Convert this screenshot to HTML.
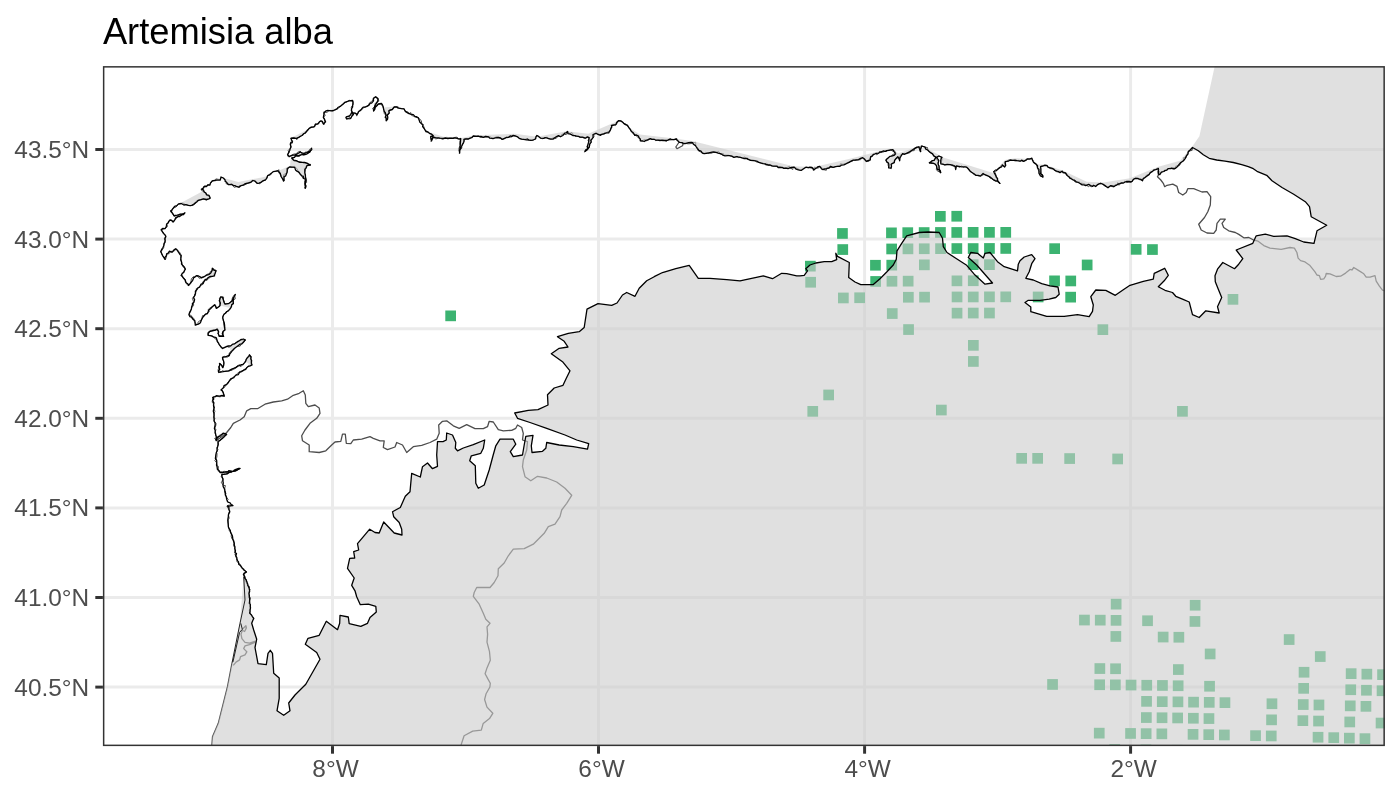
<!DOCTYPE html><html><head><meta charset="utf-8"><title>Artemisia alba</title>
<style>html,body{margin:0;padding:0;background:#fff}svg{display:block}text{font-family:"Liberation Sans",Arial,sans-serif}</style></head><body>
<svg width="1400" height="800" viewBox="0 0 1400 800">
<rect width="1400" height="800" fill="#fff"/>
<defs><clipPath id="pc"><rect x="102.9" y="66.1" width="1282.0" height="680.0"/></clipPath>
<mask id="nr" maskUnits="userSpaceOnUse" x="0" y="0" width="1400" height="800"><rect width="1400" height="800" fill="#fff"/><path d="M171.2 212.0 L172.1 209.7 L173.1 208.3 L174.6 206.3 L176.8 205.6 L178.5 203.9 L180.0 203.7 L181.3 203.5 L183.9 205.0 L185.9 204.6 L188.4 205.3 L190.2 205.7 L191.8 205.4 L193.6 204.2 L194.7 203.4 L196.7 202.0 L198.4 200.3 L200.8 199.7 L203.5 198.9 L206.6 199.5 L209.2 198.8 L210.2 198.2 L209.1 195.4 L206.9 194.9 L205.7 192.8 L204.1 192.0 L203.5 189.9 L201.3 189.2 L203.2 188.0 L204.2 186.4 L206.4 186.6 L207.9 185.0 L209.8 185.2 L210.5 182.9 L212.3 180.8 L214.5 180.4 L217.0 180.1 L220.3 180.0 L220.6 178.7 L221.0 177.0 L223.4 178.0 L225.1 179.9 L225.1 181.3 L226.8 182.6 L228.3 184.5 L230.0 184.7 L231.8 184.5 L233.6 185.6 L235.2 185.7 L236.3 186.4 L238.8 187.2 L239.7 186.2 L241.2 185.7 L243.2 185.2 L244.4 184.2 L246.3 183.4 L248.5 183.0 L250.7 182.4 L252.8 180.5 L255.1 181.2 L257.1 183.3 L259.1 183.2 L261.3 182.1 L263.3 180.6 L265.5 180.0 L266.6 178.4 L267.7 175.6 L269.7 174.6 L271.6 173.1 L273.2 171.6 L276.2 171.1 L278.2 170.9 L280.3 173.5 L280.7 175.0 L281.1 176.5 L282.6 178.9 L283.6 181.2 L284.1 179.3 L284.0 176.4 L285.6 176.1 L286.8 173.0 L287.2 171.4 L287.2 168.5 L289.8 167.0 L292.4 167.2 L294.7 167.4 L295.5 169.9 L297.3 171.4 L298.9 172.1 L300.3 174.2 L301.7 175.8 L303.2 176.2 L303.7 178.5 L305.5 179.5 L304.9 181.6 L304.9 184.4 L305.4 186.9 L305.2 188.4 L306.0 186.6 L305.4 184.6 L305.3 182.8 L305.9 180.0 L305.5 177.9 L305.4 175.0 L304.8 172.7 L304.8 169.6 L306.2 167.8 L307.0 165.6 L307.3 165.4 L310.4 165.1 L308.7 164.1 L306.8 163.2 L304.6 162.3 L302.6 162.3 L299.8 162.4 L297.7 161.4 L296.3 160.6 L293.5 160.2 L291.7 158.0 L294.5 157.3 L295.9 155.4 L298.0 155.9 L300.9 154.8 L302.5 154.6 L305.0 154.6 L306.9 154.0 L308.7 152.7 L309.9 152.1 L310.9 149.9 L311.6 148.2 L310.7 150.6 L308.5 151.7 L306.7 152.5 L304.3 153.4 L302.1 153.2 L300.4 152.0 L297.5 153.7 L296.8 154.1 L294.6 155.1 L292.8 155.2 L290.9 155.8 L289.4 156.6 L287.6 154.8 L288.4 153.1 L289.7 150.5 L290.2 148.7 L290.9 147.0 L290.3 144.1 L291.0 142.3 L292.5 142.0 L291.6 140.3 L291.0 138.4 L293.6 138.0 L296.5 138.4 L299.1 137.1 L300.8 136.0 L302.0 135.5 L304.0 133.5 L304.9 133.2 L306.4 131.5 L307.9 130.1 L309.2 128.4 L311.1 127.4 L313.7 126.8 L314.6 126.2 L315.5 124.4 L318.1 123.6 L319.4 121.8 L321.0 120.8 L322.3 121.3 L323.4 124.0 L325.6 121.9 L324.6 119.4 L323.4 117.4 L323.8 114.9 L323.9 113.0 L326.1 110.8 L327.7 110.5 L329.3 110.6 L331.2 110.9 L333.3 110.5 L335.0 109.9 L337.4 108.6 L337.8 107.5 L340.2 106.4 L341.4 105.5 L343.3 104.0 L344.8 102.3 L346.9 101.6 L349.1 100.9 L352.6 100.5 L353.0 102.3 L352.7 105.2 L352.6 107.0 L351.6 108.8 L351.5 110.6 L352.2 111.9 L353.4 114.5 L351.8 116.3 L350.6 118.5 L349.5 118.0 L346.6 119.0 L345.9 117.5 L346.6 116.6 L349.4 116.2 L350.7 114.3 L351.5 112.9 L353.9 112.8 L355.4 113.2 L357.0 114.6 L358.0 113.2 L358.4 111.8 L360.1 110.8 L361.7 108.8 L363.2 107.1 L364.7 107.1 L367.0 106.4 L369.0 105.2 L370.2 103.1 L371.6 103.1 L373.5 100.8 L373.4 98.2 L375.6 96.7 L377.8 98.9 L377.9 100.7 L376.8 102.6 L375.6 104.8 L374.6 106.6 L374.1 108.6 L373.5 111.0 L374.8 109.3 L375.3 107.4 L377.1 105.5 L378.3 104.0 L381.4 103.4 L382.6 105.1 L383.3 107.3 L383.7 109.6 L384.2 111.5 L385.2 112.5 L386.1 115.3 L385.2 117.2 L386.2 118.3 L386.2 120.8 L387.5 119.3 L387.8 117.3 L387.3 115.0 L389.2 113.0 L388.9 110.9 L390.3 109.9 L392.3 109.5 L394.2 107.0 L396.4 106.8 L398.2 108.1 L400.1 108.3 L401.5 108.7 L404.0 108.8 L405.2 111.2 L406.0 111.9 L408.5 113.4 L410.5 114.2 L411.9 114.4 L413.3 114.6 L414.9 116.4 L416.3 116.6 L418.3 117.8 L419.1 120.1 L419.9 122.2 L421.3 123.5 L423.1 124.7 L422.6 126.7 L423.8 127.7 L424.7 129.4 L425.6 130.9 L428.2 132.1 L429.4 133.3 L431.5 134.1 L433.2 135.8 L430.7 136.5 L430.9 139.0 L431.5 140.9 L432.2 139.1 L432.9 137.0 L435.5 137.6 L438.3 137.8 L439.8 138.2 L443.2 138.4 L445.3 138.0 L447.9 138.7 L450.2 138.2 L453.2 138.4 L454.8 137.8 L456.3 138.2 L459.2 139.1 L460.7 138.5 L460.5 141.7 L460.3 143.8 L460.2 145.7 L460.0 146.9 L459.8 150.1 L459.2 150.2 L459.7 152.9 L459.7 150.5 L460.4 148.8 L461.7 146.3 L462.4 144.4 L463.5 142.8 L464.2 140.8 L464.0 139.4 L466.0 139.0 L468.6 139.0 L469.5 138.4 L471.7 137.7 L473.3 136.0 L476.2 136.4 L478.2 136.2 L480.1 136.7 L480.9 136.4 L483.3 137.4 L485.6 136.4 L488.7 136.9 L489.6 138.1 L492.1 138.3 L493.5 138.5 L495.4 137.8 L498.4 137.5 L500.6 138.0 L502.3 139.4 L504.5 138.3 L506.2 137.5 L508.5 137.3 L510.2 135.9 L511.6 136.4 L512.9 135.5 L515.4 136.0 L517.5 136.8 L519.2 138.3 L521.5 139.2 L523.4 139.3 L525.2 139.7 L527.4 139.0 L529.0 140.1 L530.9 140.3 L532.5 140.1 L534.3 139.5 L535.6 138.7 L536.1 136.6 L536.9 135.5 L538.2 136.2 L540.7 138.2 L543.8 138.4 L544.8 137.7 L546.5 137.9 L548.7 138.6 L550.7 139.2 L553.0 139.2 L554.2 138.0 L556.6 136.6 L558.5 135.6 L560.5 136.8 L562.8 135.5 L564.7 133.2 L566.0 132.8 L567.6 131.4 L567.9 133.7 L570.3 134.1 L571.5 134.6 L572.8 135.5 L575.0 135.6 L576.5 136.1 L578.4 136.4 L580.2 137.1 L582.5 137.1 L585.3 138.2 L587.4 136.8 L589.1 137.6 L588.9 140.2 L588.6 142.2 L588.3 143.1 L587.4 146.1 L587.8 148.4 L585.7 150.0 L585.2 151.3 L587.0 149.9 L588.4 148.1 L589.2 147.2 L589.6 145.3 L589.7 144.1 L591.2 142.2 L590.7 140.2 L592.0 139.0 L593.1 137.4 L593.0 134.5 L596.2 133.3 L597.7 134.2 L600.6 135.3 L600.7 134.7 L604.3 133.6 L605.2 133.1 L607.3 132.8 L608.7 132.9 L609.3 131.6 L610.6 129.7 L610.8 128.4 L611.8 126.8 L611.4 125.5 L614.3 124.9 L615.9 124.6 L616.9 122.1 L618.5 120.6 L620.5 120.9 L622.7 122.2 L624.0 123.6 L626.1 124.9 L627.3 125.4 L628.9 127.7 L630.2 129.2 L631.5 131.6 L632.6 132.3 L633.6 133.3 L634.8 135.4 L636.0 134.8 L638.5 136.0 L638.8 137.4 L640.4 139.2 L640.3 140.7 L642.5 141.0 L644.2 141.5 L645.9 140.4 L647.5 139.9 L650.3 138.7 L651.8 139.3 L654.2 139.3 L655.9 140.2 L657.8 140.1 L660.0 140.5 L662.0 140.1 L664.7 140.4 L666.4 140.5 L667.8 140.2 L670.4 138.9 L671.4 139.7 L674.0 139.6 L676.3 139.0 L676.8 140.1 L679.4 142.3 L681.9 142.6 L683.1 143.2 L685.0 143.7 L688.6 142.6 L691.2 142.3 L692.6 142.6 L693.4 144.2 L695.5 145.6 L696.3 147.0 L697.4 148.7 L698.9 150.3 L701.0 151.2 L702.4 153.2 L704.0 153.6 L706.4 153.4 L707.4 153.1 L709.9 152.6 L712.0 152.2 L713.8 152.0 L716.2 152.3 L718.1 153.1 L720.2 153.6 L722.0 154.4 L722.7 155.1 L725.0 155.8 L727.9 155.6 L729.4 155.6 L731.7 156.2 L733.9 157.3 L736.8 156.6 L738.2 156.9 L740.5 157.3 L742.5 158.0 L743.7 158.5 L746.9 158.4 L748.3 159.4 L750.4 160.3 L753.3 160.6 L755.5 160.8 L757.3 161.3 L758.8 162.4 L761.4 163.2 L762.9 163.6 L765.3 163.9 L765.8 164.5 L768.2 165.0 L770.3 165.0 L772.2 165.8 L774.5 166.1 L777.1 166.1 L778.0 167.5 L779.6 167.5 L782.1 167.3 L783.8 168.4 L785.7 168.1 L788.1 168.7 L789.5 168.0 L791.5 167.5 L794.3 167.2 L795.7 168.9 L797.5 169.7 L799.3 170.1 L801.5 170.3 L804.4 168.3 L805.9 167.2 L808.4 167.7 L809.9 167.2 L812.0 167.3 L813.2 168.9 L813.3 169.8 L815.2 168.8 L816.9 167.7 L818.2 166.6 L819.9 166.5 L821.4 168.7 L822.7 169.5 L824.7 169.0 L826.5 168.7 L829.1 168.0 L830.6 166.3 L833.1 167.3 L835.5 166.6 L837.7 166.4 L840.0 166.3 L841.6 165.1 L843.9 164.9 L845.3 164.2 L846.7 163.4 L848.6 162.6 L849.2 162.4 L851.5 160.8 L853.2 160.2 L855.5 160.0 L858.6 159.6 L860.6 158.3 L862.7 157.7 L864.2 158.8 L865.0 159.7 L866.3 161.3 L867.9 160.6 L870.3 159.8 L870.3 158.3 L870.7 156.7 L872.3 156.1 L873.3 154.6 L875.0 154.0 L876.2 153.3 L878.7 153.1 L879.7 152.0 L881.2 151.9 L883.2 151.0 L885.4 151.3 L886.6 150.7 L888.9 150.3 L891.0 149.9 L892.9 149.7 L893.9 151.3 L895.2 153.2 L895.1 154.4 L893.9 155.4 L891.6 156.2 L889.8 156.4 L888.1 158.0 L886.1 159.8 L886.7 162.0 L888.5 163.1 L888.9 164.9 L888.6 167.8 L891.0 168.2 L891.5 166.2 L891.2 164.3 L892.6 163.3 L894.3 162.6 L894.6 160.4 L895.7 159.0 L897.8 156.8 L898.8 157.9 L899.7 160.8 L900.0 157.8 L901.1 156.0 L902.6 153.6 L904.2 154.4 L906.5 153.3 L909.5 151.9 L911.1 150.9 L912.7 149.8 L915.1 148.1 L916.9 147.1 L919.1 147.0 L919.3 148.4 L920.5 151.7 L920.6 149.0 L921.5 146.0 L925.2 147.1 L925.5 148.9 L927.7 150.0 L928.9 151.3 L930.0 152.4 L932.6 153.9 L933.7 155.9 L935.9 157.1 L934.3 160.3 L932.0 160.7 L931.6 161.3 L929.3 162.7 L931.3 163.0 L933.5 163.4 L934.9 164.0 L936.4 165.6 L937.4 169.7 L938.7 169.5 L940.0 171.8 L940.6 172.7 L940.4 170.8 L939.1 169.2 L939.0 166.0 L938.3 164.8 L938.2 163.2 L938.8 160.3 L937.9 159.1 L936.4 157.3 L938.8 156.0 L942.0 157.3 L941.1 158.6 L940.7 160.6 L940.8 163.8 L943.4 164.4 L944.8 164.9 L947.2 164.3 L950.2 164.6 L952.7 165.1 L953.2 165.8 L954.7 166.0 L956.1 167.4 L955.7 169.5 L955.8 167.7 L956.5 165.9 L958.8 166.3 L961.8 166.8 L963.2 166.9 L964.3 166.8 L966.7 167.2 L968.0 168.5 L969.6 170.5 L970.7 171.8 L972.3 172.8 L974.4 174.1 L976.0 175.4 L978.1 175.4 L980.4 176.1 L983.1 173.5 L984.8 174.7 L986.5 175.3 L988.4 176.2 L989.8 176.8 L991.0 177.7 L993.1 179.5 L994.3 180.1 L995.9 181.2 L997.4 180.9 L999.7 183.4 L998.9 182.2 L997.3 180.3 L997.6 178.7 L996.5 177.1 L995.7 175.4 L994.3 173.0 L993.7 171.5 L996.3 170.7 L997.3 169.6 L999.7 167.6 L1001.5 166.9 L1002.4 164.9 L1004.7 167.0 L1005.7 165.5 L1005.2 162.4 L1005.4 161.7 L1008.4 161.2 L1010.0 160.0 L1012.7 160.4 L1015.0 160.1 L1016.9 160.6 L1020.0 161.2 L1021.6 160.2 L1023.7 161.3 L1026.5 159.9 L1027.3 158.8 L1030.2 158.8 L1031.9 158.2 L1032.4 159.9 L1033.4 162.1 L1033.6 162.4 L1036.0 164.1 L1037.5 165.8 L1037.5 167.9 L1038.9 169.4 L1038.9 171.9 L1039.0 173.3 L1040.3 175.8 L1042.9 176.9 L1042.8 175.6 L1040.6 173.6 L1040.9 171.8 L1040.9 169.0 L1040.6 166.7 L1043.5 165.8 L1044.4 165.5 L1046.9 165.5 L1048.2 167.3 L1050.4 167.8 L1052.2 168.4 L1053.6 169.0 L1054.5 170.2 L1056.6 171.1 L1057.9 171.4 L1060.0 172.6 L1062.1 171.2 L1062.9 172.5 L1065.4 173.0 L1067.2 175.5 L1068.9 176.7 L1069.8 178.1 L1071.1 178.7 L1073.1 179.9 L1074.5 180.2 L1076.2 181.8 L1078.3 182.5 L1080.1 183.5 L1082.1 184.9 L1084.0 184.8 L1085.7 185.6 L1088.7 184.4 L1090.6 185.5 L1092.6 186.4 L1093.6 185.3 L1095.7 186.5 L1097.2 184.9 L1099.0 183.9 L1101.1 183.5 L1102.5 184.0 L1104.1 185.1 L1106.1 186.4 L1108.0 187.8 L1110.8 185.6 L1114.1 186.5 L1115.2 185.7 L1116.4 185.2 L1118.5 183.9 L1119.6 183.7 L1121.7 182.9 L1123.1 183.2 L1125.1 182.0 L1126.4 181.5 L1129.1 181.5 L1131.0 182.0 L1132.4 180.9 L1133.4 179.4 L1135.0 178.5 L1138.1 178.7 L1138.8 178.9 L1140.8 179.3 L1142.5 180.8 L1143.4 178.3 L1145.0 177.6 L1147.1 175.9 L1149.0 174.6 L1150.3 172.6 L1152.2 171.6 L1153.9 170.0 L1155.8 169.6 L1158.4 168.5 L1158.2 170.0 L1158.7 172.0 L1158.3 174.2 L1159.8 174.7 L1161.4 172.2 L1163.8 171.5 L1164.9 170.5 L1166.9 170.1 L1168.1 168.7 L1170.8 168.7 L1171.4 168.2 L1173.0 168.5 L1175.2 168.4 L1177.1 166.9 L1177.9 165.9 L1179.5 164.0 L1180.4 162.8 L1182.3 161.5 L1183.3 160.7 L1185.0 158.9 L1185.9 157.1 L1186.3 156.0 L1188.1 153.9 L1188.0 152.2 L1188.8 151.0 L1190.4 149.7 L1192.5 147.5 L1198.3 150.8 L1203.3 154.7 L1209.2 158.3 L1216.7 160.0 L1225.0 161.2 L1233.3 162.5 L1241.7 164.7 L1248.3 166.7 L1253.3 168.7 L1257.0 171.3 L1266.7 175.3 L1272.0 180.8 L1282.0 187.5 L1293.7 194.2 L1305.3 201.7 L1309.5 206.7 L1311.2 216.7 L1326.7 225.3 L1317.0 230.8 L1314.0 243.3 L1303.7 242.0 L1295.3 238.7 L1287.0 235.8 L1273.7 236.3 L1265.3 234.2 L1256.2 235.8 L1252.8 243.3 L1236.2 250.0 L1242.8 258.7 L1238.7 264.2 L1234.5 268.7 L1222.8 262.5 L1217.5 269.2 L1215.0 275.8 L1215.3 281.7 L1218.3 289.2 L1221.7 297.5 L1217.5 306.7 L1219.2 313.0 L1205.8 310.8 L1199.2 317.5 L1192.5 314.7 L1189.2 302.0 L1182.5 299.2 L1175.8 296.3 L1172.5 292.5 L1165.0 290.3 L1158.3 286.7 L1164.2 280.8 L1168.3 275.3 L1164.7 268.3 L1154.2 273.3 L1153.3 279.2 L1143.3 281.3 L1130.0 285.3 L1123.3 289.7 L1115.3 295.3 L1105.8 290.3 L1095.8 290.0 L1090.8 296.7 L1093.3 305.0 L1092.5 311.3 L1089.2 316.7 L1077.5 314.7 L1064.2 316.3 L1046.7 316.3 L1030.8 311.7 L1030.8 307.0 L1025.0 302.5 L1028.3 300.3 L1040.0 300.3 L1049.2 299.2 L1055.8 297.5 L1059.2 294.2 L1058.0 287.0 L1050.0 285.8 L1041.7 283.7 L1033.3 280.0 L1025.8 278.3 L1029.2 271.7 L1031.7 263.7 L1035.0 258.7 L1031.7 254.7 L1024.2 257.0 L1020.0 260.8 L1018.3 264.2 L1017.5 270.8 L1004.2 266.7 L997.5 261.7 L990.0 252.5 L985.0 253.3 L983.3 258.0 L977.5 253.3 L970.8 252.5 L968.3 257.5 L976.7 265.0 L992.5 283.0 L985.0 284.2 L974.2 274.2 L966.7 265.3 L955.8 258.3 L947.0 252.5 L943.3 246.7 L942.5 238.3 L939.2 232.5 L928.3 232.0 L919.2 232.5 L906.7 235.8 L901.7 243.3 L897.0 250.8 L896.3 259.2 L893.3 265.0 L886.7 272.0 L880.0 278.7 L873.0 284.7 L860.8 284.7 L855.0 282.0 L848.7 277.5 L849.3 262.5 L837.5 256.3 L835.8 253.3 L836.7 259.7 L831.7 261.7 L824.2 261.7 L815.8 263.0 L810.0 265.0 L805.8 268.7 L807.5 270.8 L804.2 275.3 L800.0 275.8 L796.7 275.8 L786.7 273.7 L781.7 273.3 L772.5 278.7 L763.3 275.8 L751.7 278.3 L740.0 280.8 L726.7 279.7 L710.0 278.3 L698.3 278.3 L689.2 265.3 L675.8 268.7 L662.5 272.5 L654.2 276.7 L646.7 280.8 L639.2 288.3 L635.0 296.3 L626.7 292.5 L622.5 295.0 L617.0 303.0 L611.7 305.3 L598.0 303.7 L587.0 309.2 L584.2 327.5 L579.2 331.7 L568.3 333.3 L557.5 336.7 L564.2 341.3 L568.0 347.0 L559.2 348.3 L551.3 353.7 L562.5 361.7 L570.0 370.8 L566.3 378.3 L563.0 385.3 L554.2 388.0 L547.5 394.7 L548.0 405.0 L538.0 409.7 L528.3 410.3 L514.7 413.0 L517.5 418.3 L530.0 422.5 L546.7 428.3 L565.0 435.0 L576.7 440.0 L588.7 443.7 L587.5 449.2 L573.3 446.7 L559.2 445.0 L546.7 442.5 L545.8 448.3 L542.5 451.3 L532.0 452.5 L531.3 445.8 L533.0 435.3 L525.8 436.3 L524.2 445.0 L522.5 455.0 L513.3 456.7 L510.3 451.7 L515.8 444.2 L513.3 439.2 L500.0 439.2 L495.8 445.8 L493.0 455.8 L489.2 470.0 L484.2 485.0 L478.3 488.3 L475.8 483.3 L475.3 465.8 L469.7 460.8 L471.3 455.8 L480.8 453.3 L483.3 448.3 L484.7 440.0 L473.3 444.7 L463.3 448.0 L457.5 450.8 L455.3 448.3 L455.8 442.5 L452.5 435.0 L446.7 433.0 L446.3 440.0 L443.0 441.7 L437.5 441.7 L436.7 455.0 L437.5 466.3 L432.5 468.7 L427.5 463.0 L422.5 466.7 L420.3 477.0 L411.7 473.3 L410.0 491.7 L405.3 496.3 L400.3 507.5 L392.5 511.7 L393.7 516.7 L399.2 522.5 L401.7 529.2 L402.0 535.0 L394.2 533.0 L383.7 522.0 L379.2 533.0 L375.0 532.5 L369.7 529.2 L357.5 543.7 L358.7 550.0 L353.7 551.7 L354.7 558.0 L349.7 558.3 L347.5 568.3 L354.2 578.0 L351.7 585.3 L355.0 590.8 L356.7 596.7 L360.3 604.7 L368.3 604.2 L375.8 606.3 L376.3 612.0 L370.0 617.5 L367.5 623.3 L360.8 626.3 L349.2 623.7 L348.3 617.0 L340.0 615.3 L339.7 623.3 L337.5 629.7 L326.3 621.3 L319.2 635.3 L308.0 638.3 L305.3 644.2 L316.7 652.5 L320.0 659.2 L305.8 684.2 L295.0 695.0 L288.7 703.0 L290.0 710.8 L283.7 715.3 L277.0 710.8 L279.2 698.3 L279.2 678.0 L273.7 673.3 L272.5 653.3 L270.3 650.3 L268.0 653.3 L266.3 664.7 L258.0 663.7 L255.0 647.5 L256.7 639.2 L253.7 630.0 L251.7 623.3 L253.0 620.0 L253.8 618.4 L252.2 616.3 L251.5 615.0 L249.6 613.1 L250.1 611.3 L250.1 609.9 L250.5 607.9 L250.3 606.7 L250.3 604.3 L249.8 603.7 L249.6 600.6 L249.7 598.6 L249.2 597.1 L249.4 595.9 L249.0 593.6 L249.5 591.8 L249.7 591.1 L249.1 588.1 L248.4 586.4 L247.7 585.2 L247.9 584.4 L246.4 580.8 L246.4 580.0 L244.9 578.6 L244.3 576.2 L243.4 574.4 L245.5 572.6 L246.5 572.0 L244.0 569.9 L242.6 568.6 L241.9 567.5 L241.0 566.1 L238.7 564.2 L238.5 561.8 L237.7 560.8 L236.8 559.4 L236.9 557.8 L235.8 555.8 L236.5 553.6 L235.0 552.5 L235.5 550.9 L234.8 548.7 L235.0 547.0 L234.3 545.2 L234.3 543.3 L233.8 541.8 L232.9 539.6 L232.7 538.1 L232.4 535.8 L231.4 534.1 L230.6 532.7 L230.3 530.4 L228.7 528.0 L228.4 526.8 L228.2 524.3 L228.0 521.4 L227.8 520.4 L228.0 518.4 L228.3 517.0 L228.4 514.8 L229.4 512.7 L229.8 511.8 L228.9 509.5 L229.0 507.6 L227.5 506.0 L229.3 506.1 L231.2 505.6 L233.0 505.5 L231.2 504.8 L230.3 503.0 L228.0 502.2 L227.2 500.8 L226.7 499.4 L226.2 496.3 L225.3 494.9 L225.7 493.7 L225.0 491.3 L224.7 489.7 L223.9 487.8 L223.2 486.6 L223.0 485.0 L223.3 483.0 L223.0 481.7 L223.0 479.0 L222.5 478.1 L221.8 475.8 L222.0 474.3 L223.8 474.4 L226.2 474.1 L227.8 473.3 L229.5 472.3 L232.4 471.5 L233.3 471.1 L235.2 471.1 L237.1 470.0 L238.3 469.5 L240.0 468.3 L238.7 468.4 L236.6 469.0 L234.7 469.9 L233.8 471.3 L231.8 471.2 L228.8 470.7 L227.8 472.0 L226.0 471.8 L223.6 472.4 L222.9 472.6 L220.0 472.5 L219.2 470.7 L217.4 469.3 L217.1 466.8 L216.5 465.0 L216.8 462.2 L216.6 460.1 L215.4 458.5 L215.7 456.1 L215.9 454.3 L216.4 452.4 L217.0 451.0 L217.1 448.5 L217.7 446.5 L218.3 444.0 L218.0 441.4 L220.1 440.3 L221.6 439.0 L222.6 438.4 L224.5 436.1 L225.5 435.4 L226.6 434.4 L225.1 433.6 L223.1 433.2 L222.0 434.3 L220.3 436.1 L218.4 436.3 L217.1 438.2 L216.1 440.7 L216.0 439.1 L216.5 437.5 L215.8 435.4 L215.7 434.0 L215.1 432.6 L215.2 430.5 L214.4 428.4 L214.7 427.0 L215.2 424.7 L215.0 422.6 L214.2 421.3 L214.0 418.7 L213.9 416.7 L214.1 415.6 L213.9 413.5 L213.3 411.2 L213.5 410.1 L214.3 407.1 L213.7 407.0 L213.5 405.2 L213.9 402.9 L212.7 400.7 L213.8 398.9 L212.7 397.4 L215.4 396.7 L216.3 395.7 L219.5 396.1 L222.1 395.5 L224.3 396.1 L223.5 393.8 L223.3 392.6 L222.1 390.7 L221.0 389.9 L223.6 387.5 L224.0 385.6 L226.8 384.4 L228.4 382.5 L229.5 380.7 L230.7 378.9 L233.8 377.7 L234.4 376.6 L236.1 375.0 L238.2 374.7 L239.5 372.5 L241.4 371.6 L243.9 370.1 L245.7 369.3 L247.0 367.4 L248.5 366.3 L250.2 365.9 L252.1 365.0 L251.4 363.3 L251.6 360.3 L250.8 359.0 L250.9 356.8 L249.5 354.8 L248.7 356.4 L247.3 357.8 L246.2 359.3 L245.8 360.9 L244.9 362.4 L242.9 364.5 L241.5 364.7 L239.4 365.7 L237.8 366.1 L235.9 367.4 L234.2 368.2 L232.3 368.8 L230.4 369.9 L228.6 370.9 L226.3 371.1 L223.2 371.7 L220.4 372.0 L218.6 372.2 L218.4 370.7 L219.7 369.7 L219.1 366.8 L219.8 364.9 L219.5 363.5 L221.2 364.8 L222.2 366.2 L222.8 367.7 L223.6 365.5 L223.9 363.4 L223.6 361.0 L222.7 359.3 L222.5 357.3 L223.7 357.1 L225.3 356.8 L227.1 356.2 L229.4 355.3 L229.7 354.0 L231.3 352.1 L232.3 350.7 L233.5 349.5 L235.0 348.0 L236.7 346.8 L238.1 345.7 L240.2 344.1 L241.7 343.9 L243.2 342.6 L243.7 341.8 L245.2 339.8 L243.3 339.0 L240.8 339.8 L238.6 341.2 L237.4 341.7 L235.4 343.3 L234.7 343.8 L232.7 344.1 L230.8 345.9 L228.4 346.0 L226.6 346.5 L223.9 347.8 L222.7 348.5 L221.1 347.1 L219.1 344.3 L218.4 342.8 L217.2 341.3 L216.7 338.9 L216.2 337.7 L213.4 336.8 L211.9 336.2 L210.2 335.7 L208.2 335.3 L208.2 333.2 L210.0 331.3 L211.6 331.0 L213.4 330.5 L215.6 330.2 L216.9 329.2 L218.4 331.5 L218.2 333.3 L219.1 336.4 L221.6 336.1 L223.6 336.4 L222.3 333.8 L223.0 331.5 L225.0 330.0 L224.7 327.7 L224.6 325.3 L224.3 322.9 L223.8 321.5 L223.2 320.1 L222.8 317.5 L223.0 316.2 L224.1 314.0 L225.3 313.3 L226.9 311.5 L228.1 311.1 L229.5 309.6 L230.6 308.1 L231.5 306.4 L231.8 304.6 L233.4 303.6 L233.2 301.6 L233.3 300.2 L233.4 298.6 L234.3 295.9 L235.4 294.4 L234.1 296.7 L232.7 299.0 L232.2 300.8 L229.9 302.7 L228.3 303.7 L226.4 303.8 L225.1 304.2 L224.1 302.5 L223.4 300.0 L222.4 297.2 L220.6 296.8 L220.1 298.6 L219.3 300.7 L220.4 303.1 L219.8 305.8 L218.8 306.8 L216.3 308.4 L215.7 306.7 L214.6 304.7 L213.2 306.0 L212.1 307.0 L210.5 308.7 L208.6 310.2 L208.2 311.5 L207.4 313.7 L205.4 314.3 L204.1 315.9 L202.6 317.7 L201.5 319.8 L200.4 322.8 L199.0 323.8 L198.0 324.2 L195.3 325.2 L195.0 322.5 L194.9 320.8 L192.7 319.1 L191.7 317.1 L189.9 316.6 L188.9 314.8 L189.5 312.8 L190.5 311.2 L191.4 309.1 L191.6 307.0 L192.5 304.8 L192.4 303.5 L194.0 302.2 L194.6 299.6 L193.5 297.7 L195.0 295.1 L195.5 293.8 L195.4 291.2 L197.1 289.3 L198.3 287.5 L199.7 287.1 L201.1 284.1 L203.2 283.5 L203.9 281.4 L205.3 279.5 L206.5 279.4 L208.0 277.8 L209.9 276.5 L212.3 276.3 L214.5 275.9 L214.5 274.9 L215.4 272.7 L215.9 270.8 L213.8 270.1 L212.3 268.3 L212.0 270.8 L210.8 273.0 L208.7 274.7 L207.0 275.0 L204.9 276.3 L202.6 277.0 L201.8 277.9 L200.6 277.1 L198.5 276.0 L196.8 275.6 L194.4 277.4 L193.8 277.5 L192.6 280.6 L191.3 282.0 L190.0 283.6 L188.6 285.4 L187.8 283.7 L186.1 282.7 L185.2 280.0 L183.6 278.3 L182.2 276.0 L181.4 275.0 L182.4 273.1 L183.6 272.5 L184.6 270.4 L185.4 269.1 L184.3 267.0 L182.8 265.6 L181.5 264.1 L181.6 262.1 L180.7 259.9 L180.9 258.4 L181.2 255.5 L179.9 254.4 L178.8 252.7 L177.3 250.4 L177.1 249.9 L175.7 248.7 L174.0 249.8 L172.5 252.0 L170.8 252.0 L169.5 251.1 L168.3 253.0 L166.8 253.6 L166.2 255.9 L165.1 257.1 L165.0 259.4 L163.8 257.4 L162.6 255.6 L161.8 253.7 L160.7 251.6 L162.2 248.5 L162.9 247.5 L163.8 245.7 L164.3 243.3 L165.1 242.2 L165.1 239.9 L165.1 238.1 L165.9 236.7 L165.1 235.1 L163.6 233.6 L161.9 230.9 L161.4 229.5 L162.6 228.4 L165.0 228.7 L166.4 226.2 L166.6 224.0 L168.5 222.7 L168.5 221.7 L170.0 220.0 L171.8 220.5 L173.1 222.1 L174.2 220.9 L175.0 219.3 L175.8 217.6 L178.5 216.4 L179.6 216.6 L181.7 214.9 L183.5 214.6 L184.9 212.8 L183.2 214.1 L180.4 214.1 L179.1 214.7 L177.8 215.2 L175.2 215.3 L174.1 215.8 L172.8 213.6 L170.7 210.8Z" fill="#000"/></mask></defs>
<g clip-path="url(#pc)">
<g stroke="#ebebeb" stroke-width="2.96" fill="none">
<line x1="332.5" y1="66.1" x2="332.5" y2="746.1"/>
<line x1="598.5" y1="66.1" x2="598.5" y2="746.1"/>
<line x1="864.6" y1="66.1" x2="864.6" y2="746.1"/>
<line x1="1130.6" y1="66.1" x2="1130.6" y2="746.1"/>
<line x1="102.9" y1="149.5" x2="1384.9" y2="149.5"/>
<line x1="102.9" y1="239.1" x2="1384.9" y2="239.1"/>
<line x1="102.9" y1="328.7" x2="1384.9" y2="328.7"/>
<line x1="102.9" y1="418.3" x2="1384.9" y2="418.3"/>
<line x1="102.9" y1="507.9" x2="1384.9" y2="507.9"/>
<line x1="102.9" y1="597.5" x2="1384.9" y2="597.5"/>
<line x1="102.9" y1="687.1" x2="1384.9" y2="687.1"/>
</g>
<g fill="#3cb371">
<rect x="445.3" y="310.5" width="10.7" height="10.7"/>
<rect x="807.4" y="406.0" width="10.7" height="10.7"/>
<rect x="805.3" y="276.9" width="10.7" height="10.7"/>
<rect x="805.0" y="260.8" width="10.7" height="10.7"/>
<rect x="823.3" y="389.6" width="10.7" height="10.7"/>
<rect x="838.0" y="292.6" width="10.7" height="10.7"/>
<rect x="837.4" y="244.2" width="10.7" height="10.7"/>
<rect x="837.1" y="228.1" width="10.7" height="10.7"/>
<rect x="854.3" y="292.4" width="10.7" height="10.7"/>
<rect x="870.3" y="276.1" width="10.7" height="10.7"/>
<rect x="870.1" y="259.9" width="10.7" height="10.7"/>
<rect x="886.9" y="308.2" width="10.7" height="10.7"/>
<rect x="886.6" y="275.9" width="10.7" height="10.7"/>
<rect x="886.4" y="259.8" width="10.7" height="10.7"/>
<rect x="886.3" y="243.6" width="10.7" height="10.7"/>
<rect x="886.1" y="227.5" width="10.7" height="10.7"/>
<rect x="903.2" y="324.2" width="10.7" height="10.7"/>
<rect x="903.0" y="291.9" width="10.7" height="10.7"/>
<rect x="902.8" y="275.8" width="10.7" height="10.7"/>
<rect x="902.6" y="243.5" width="10.7" height="10.7"/>
<rect x="902.4" y="227.3" width="10.7" height="10.7"/>
<rect x="919.2" y="291.8" width="10.7" height="10.7"/>
<rect x="919.0" y="259.5" width="10.7" height="10.7"/>
<rect x="918.9" y="243.4" width="10.7" height="10.7"/>
<rect x="918.8" y="227.2" width="10.7" height="10.7"/>
<rect x="936.0" y="404.7" width="10.7" height="10.7"/>
<rect x="935.2" y="243.3" width="10.7" height="10.7"/>
<rect x="935.1" y="227.1" width="10.7" height="10.7"/>
<rect x="935.0" y="211.0" width="10.7" height="10.7"/>
<rect x="951.7" y="307.8" width="10.7" height="10.7"/>
<rect x="951.7" y="291.6" width="10.7" height="10.7"/>
<rect x="951.6" y="275.5" width="10.7" height="10.7"/>
<rect x="951.5" y="243.2" width="10.7" height="10.7"/>
<rect x="951.4" y="227.1" width="10.7" height="10.7"/>
<rect x="951.4" y="210.9" width="10.7" height="10.7"/>
<rect x="968.0" y="356.1" width="10.7" height="10.7"/>
<rect x="968.0" y="340.0" width="10.7" height="10.7"/>
<rect x="967.9" y="307.7" width="10.7" height="10.7"/>
<rect x="967.9" y="291.6" width="10.7" height="10.7"/>
<rect x="967.9" y="275.4" width="10.7" height="10.7"/>
<rect x="967.8" y="259.3" width="10.7" height="10.7"/>
<rect x="967.8" y="243.2" width="10.7" height="10.7"/>
<rect x="967.8" y="227.0" width="10.7" height="10.7"/>
<rect x="984.1" y="307.7" width="10.7" height="10.7"/>
<rect x="984.1" y="291.5" width="10.7" height="10.7"/>
<rect x="984.1" y="259.3" width="10.7" height="10.7"/>
<rect x="984.1" y="243.1" width="10.7" height="10.7"/>
<rect x="984.1" y="227.0" width="10.7" height="10.7"/>
<rect x="1000.4" y="291.5" width="10.7" height="10.7"/>
<rect x="1000.4" y="243.1" width="10.7" height="10.7"/>
<rect x="1000.4" y="227.0" width="10.7" height="10.7"/>
<rect x="1016.3" y="453.0" width="10.7" height="10.7"/>
<rect x="1032.3" y="453.0" width="10.7" height="10.7"/>
<rect x="1032.8" y="291.6" width="10.7" height="10.7"/>
<rect x="1047.2" y="679.1" width="10.7" height="10.7"/>
<rect x="1049.2" y="275.5" width="10.7" height="10.7"/>
<rect x="1049.3" y="243.3" width="10.7" height="10.7"/>
<rect x="1064.3" y="453.2" width="10.7" height="10.7"/>
<rect x="1065.3" y="291.8" width="10.7" height="10.7"/>
<rect x="1065.4" y="275.6" width="10.7" height="10.7"/>
<rect x="1079.1" y="614.7" width="10.7" height="10.7"/>
<rect x="1081.8" y="259.6" width="10.7" height="10.7"/>
<rect x="1093.9" y="727.8" width="10.7" height="10.7"/>
<rect x="1094.3" y="679.4" width="10.7" height="10.7"/>
<rect x="1094.5" y="663.2" width="10.7" height="10.7"/>
<rect x="1094.9" y="614.8" width="10.7" height="10.7"/>
<rect x="1097.5" y="324.3" width="10.7" height="10.7"/>
<rect x="1109.4" y="744.1" width="10.7" height="10.7"/>
<rect x="1110.0" y="679.5" width="10.7" height="10.7"/>
<rect x="1110.2" y="663.4" width="10.7" height="10.7"/>
<rect x="1110.5" y="631.1" width="10.7" height="10.7"/>
<rect x="1110.7" y="615.0" width="10.7" height="10.7"/>
<rect x="1110.8" y="598.8" width="10.7" height="10.7"/>
<rect x="1112.3" y="453.6" width="10.7" height="10.7"/>
<rect x="1125.2" y="728.1" width="10.7" height="10.7"/>
<rect x="1125.7" y="679.7" width="10.7" height="10.7"/>
<rect x="1130.8" y="244.0" width="10.7" height="10.7"/>
<rect x="1140.6" y="744.5" width="10.7" height="10.7"/>
<rect x="1140.8" y="728.3" width="10.7" height="10.7"/>
<rect x="1141.0" y="712.2" width="10.7" height="10.7"/>
<rect x="1141.2" y="696.0" width="10.7" height="10.7"/>
<rect x="1141.4" y="679.9" width="10.7" height="10.7"/>
<rect x="1142.2" y="615.4" width="10.7" height="10.7"/>
<rect x="1147.1" y="244.2" width="10.7" height="10.7"/>
<rect x="1156.5" y="728.5" width="10.7" height="10.7"/>
<rect x="1156.7" y="712.4" width="10.7" height="10.7"/>
<rect x="1156.9" y="696.3" width="10.7" height="10.7"/>
<rect x="1157.1" y="680.1" width="10.7" height="10.7"/>
<rect x="1157.8" y="631.7" width="10.7" height="10.7"/>
<rect x="1171.8" y="744.9" width="10.7" height="10.7"/>
<rect x="1172.3" y="712.6" width="10.7" height="10.7"/>
<rect x="1172.6" y="696.5" width="10.7" height="10.7"/>
<rect x="1172.8" y="680.4" width="10.7" height="10.7"/>
<rect x="1173.0" y="664.2" width="10.7" height="10.7"/>
<rect x="1173.5" y="631.9" width="10.7" height="10.7"/>
<rect x="1177.1" y="406.0" width="10.7" height="10.7"/>
<rect x="1187.5" y="745.2" width="10.7" height="10.7"/>
<rect x="1187.7" y="729.0" width="10.7" height="10.7"/>
<rect x="1188.0" y="712.9" width="10.7" height="10.7"/>
<rect x="1188.2" y="696.8" width="10.7" height="10.7"/>
<rect x="1189.6" y="616.1" width="10.7" height="10.7"/>
<rect x="1189.8" y="599.9" width="10.7" height="10.7"/>
<rect x="1203.1" y="745.4" width="10.7" height="10.7"/>
<rect x="1203.4" y="729.3" width="10.7" height="10.7"/>
<rect x="1203.6" y="713.2" width="10.7" height="10.7"/>
<rect x="1203.9" y="697.0" width="10.7" height="10.7"/>
<rect x="1204.2" y="680.9" width="10.7" height="10.7"/>
<rect x="1204.8" y="648.6" width="10.7" height="10.7"/>
<rect x="1218.7" y="745.8" width="10.7" height="10.7"/>
<rect x="1219.0" y="729.6" width="10.7" height="10.7"/>
<rect x="1219.6" y="697.3" width="10.7" height="10.7"/>
<rect x="1227.6" y="294.0" width="10.7" height="10.7"/>
<rect x="1234.3" y="746.1" width="10.7" height="10.7"/>
<rect x="1250.2" y="730.3" width="10.7" height="10.7"/>
<rect x="1265.9" y="730.6" width="10.7" height="10.7"/>
<rect x="1266.2" y="714.5" width="10.7" height="10.7"/>
<rect x="1266.6" y="698.4" width="10.7" height="10.7"/>
<rect x="1283.8" y="634.2" width="10.7" height="10.7"/>
<rect x="1297.5" y="715.3" width="10.7" height="10.7"/>
<rect x="1297.9" y="699.2" width="10.7" height="10.7"/>
<rect x="1298.3" y="683.0" width="10.7" height="10.7"/>
<rect x="1298.7" y="666.9" width="10.7" height="10.7"/>
<rect x="1312.7" y="731.9" width="10.7" height="10.7"/>
<rect x="1313.2" y="715.7" width="10.7" height="10.7"/>
<rect x="1313.6" y="699.6" width="10.7" height="10.7"/>
<rect x="1314.9" y="651.2" width="10.7" height="10.7"/>
<rect x="1328.4" y="732.3" width="10.7" height="10.7"/>
<rect x="1344.0" y="732.8" width="10.7" height="10.7"/>
<rect x="1344.4" y="716.6" width="10.7" height="10.7"/>
<rect x="1344.9" y="700.5" width="10.7" height="10.7"/>
<rect x="1345.4" y="684.4" width="10.7" height="10.7"/>
<rect x="1345.8" y="668.3" width="10.7" height="10.7"/>
<rect x="1359.6" y="733.3" width="10.7" height="10.7"/>
<rect x="1360.6" y="701.0" width="10.7" height="10.7"/>
<rect x="1361.1" y="684.9" width="10.7" height="10.7"/>
<rect x="1361.5" y="668.8" width="10.7" height="10.7"/>
<rect x="1375.7" y="717.7" width="10.7" height="10.7"/>
<rect x="1376.7" y="685.4" width="10.7" height="10.7"/>
<rect x="1377.2" y="669.3" width="10.7" height="10.7"/>
</g>
<path d="M170.7 211.9 L171.9 209.8 L172.9 208.2 L175.8 207.2 L177.4 205.7 L178.5 204.2 L178.8 204.3 L181.9 203.5 L182.6 202.8 L185.5 204.5 L188.1 205.2 L190.2 205.6 L191.9 205.3 L192.9 205.4 L195.2 203.8 L196.2 201.1 L198.2 200.0 L201.3 199.8 L203.1 198.8 L206.4 200.2 L207.8 199.0 L210.2 197.4 L209.2 196.4 L205.8 194.9 L205.3 192.8 L204.4 191.6 L201.9 191.0 L201.9 189.6 L203.9 188.2 L204.2 186.1 L206.5 185.7 L207.7 184.7 L209.6 184.8 L212.2 181.5 L211.9 180.9 L215.6 180.8 L215.9 178.9 L220.2 179.7 L220.0 179.2 L222.1 177.1 L223.5 178.8 L225.7 180.3 L226.5 181.8 L226.1 183.7 L228.7 184.4 L228.6 184.3 L232.3 184.0 L233.3 186.3 L234.1 187.3 L237.1 186.5 L238.5 187.3 L240.1 187.1 L241.2 185.4 L243.8 185.0 L244.4 185.0 L247.7 183.4 L247.8 182.9 L250.3 181.7 L253.1 180.4 L255.5 181.1 L256.5 182.9 L259.6 183.7 L261.5 182.2 L263.4 181.1 L264.9 179.8 L266.9 178.3 L267.8 175.6 L271.0 174.6 L271.5 173.2 L273.3 171.7 L275.6 171.4 L279.1 169.8 L278.8 173.1 L281.0 175.1 L281.4 177.4 L282.7 178.5 L284.4 181.0 L283.4 178.7 L284.1 176.6 L283.5 174.7 L287.1 172.8 L287.0 171.5 L287.9 169.0 L289.3 166.5 L291.8 167.5 L294.6 166.4 L296.6 168.2 L297.8 170.2 L299.0 173.3 L300.2 174.3 L302.0 175.9 L302.7 178.3 L304.6 178.4 L306.2 179.5 L305.7 181.9 L305.3 184.7 L305.4 186.7 L304.7 187.7 L305.9 185.6 L304.9 183.1 L306.6 182.6 L306.5 179.6 L305.4 176.7 L305.3 175.7 L304.4 173.6 L305.4 169.9 L304.5 168.9 L306.6 165.6 L308.8 165.5 L311.0 164.2 L309.3 165.0 L307.3 163.3 L304.1 163.6 L302.5 162.6 L301.0 161.9 L296.5 161.5 L294.1 161.4 L293.5 159.7 L291.7 158.3 L293.8 157.8 L295.8 156.3 L299.4 156.5 L300.6 155.4 L301.5 154.0 L303.3 155.2 L306.1 154.2 L308.2 152.9 L309.8 151.8 L312.1 150.0 L311.9 148.8 L309.9 149.1 L308.1 152.1 L305.1 152.1 L304.6 153.7 L302.1 153.1 L300.1 151.2 L297.2 152.5 L297.1 153.9 L294.0 154.0 L291.9 155.0 L290.0 156.1 L288.2 156.8 L287.6 154.2 L289.0 152.7 L288.2 150.5 L290.2 148.4 L291.2 147.0 L290.3 144.3 L292.2 143.4 L292.7 140.8 L292.3 140.9 L290.7 138.1 L294.1 137.3 L296.9 139.7 L298.1 137.7 L301.6 135.8 L302.7 135.4 L303.1 133.7 L305.4 133.3 L306.7 131.6 L307.2 129.7 L309.5 128.4 L310.7 126.9 L314.5 127.1 L315.3 123.7 L316.8 124.7 L319.0 123.5 L319.3 122.4 L320.0 121.3 L322.3 122.0 L323.9 124.9 L324.7 121.4 L324.5 119.7 L323.2 117.1 L325.2 115.7 L323.7 111.9 L327.0 112.4 L328.3 111.2 L328.8 111.0 L329.9 110.3 L333.3 111.1 L334.5 109.7 L337.0 109.0 L338.8 107.9 L339.9 107.0 L341.7 104.7 L342.9 103.9 L345.0 102.6 L347.1 101.8 L349.1 100.3 L352.7 100.8 L353.1 102.5 L353.2 104.6 L351.2 107.0 L351.5 109.4 L351.2 109.7 L351.8 113.6 L353.2 113.6 L351.5 116.6 L351.0 118.4 L349.8 119.0 L346.7 118.9 L346.5 117.9 L348.2 115.9 L349.1 116.1 L350.2 115.3 L351.9 113.7 L354.1 113.6 L356.3 113.6 L356.7 116.1 L357.3 113.9 L358.7 111.7 L359.2 110.4 L361.9 109.7 L363.7 107.5 L365.6 107.0 L366.8 105.9 L368.2 105.3 L369.3 103.2 L371.7 101.2 L373.2 100.0 L373.0 98.9 L376.1 97.0 L378.2 98.1 L378.8 101.1 L377.1 102.5 L375.3 103.2 L374.5 106.6 L372.6 108.6 L373.9 110.4 L373.2 108.3 L375.1 106.4 L376.9 105.7 L378.6 104.3 L382.3 104.2 L381.6 105.0 L382.9 106.5 L383.7 109.1 L384.4 110.5 L384.1 113.2 L385.7 115.2 L386.0 116.6 L386.7 119.1 L386.3 120.4 L386.8 116.9 L387.1 117.0 L387.3 115.5 L389.2 113.1 L388.6 110.5 L390.9 110.5 L392.5 109.1 L394.1 107.0 L397.0 106.8 L397.8 106.7 L399.8 108.4 L401.3 108.6 L404.0 108.7 L405.2 111.0 L408.3 112.2 L408.8 113.7 L410.8 112.6 L411.1 115.0 L413.6 116.3 L415.2 117.1 L417.2 117.7 L418.5 117.8 L419.8 119.0 L421.4 121.0 L421.8 124.6 L422.3 125.2 L424.1 126.7 L423.6 128.3 L425.4 130.2 L425.5 131.9 L428.7 132.4 L429.3 133.5 L432.2 134.2 L433.6 135.5 L430.5 137.3 L432.0 139.1 L431.0 141.5 L432.3 139.3 L434.0 137.5 L435.5 139.0 L438.3 138.2 L440.4 138.2 L442.6 139.4 L446.5 137.7 L446.7 137.3 L450.5 138.1 L452.5 137.9 L454.9 137.4 L457.0 137.2 L458.8 138.8 L461.0 138.9 L459.9 141.2 L459.9 144.3 L460.3 145.3 L459.5 146.7 L458.9 148.8 L459.6 151.3 L459.4 153.7 L459.5 150.8 L462.0 147.9 L461.3 146.7 L462.6 144.7 L462.9 143.1 L463.6 141.7 L463.4 139.1 L466.2 138.4 L467.9 138.9 L469.5 138.3 L472.2 137.2 L473.5 136.1 L474.8 136.1 L478.5 135.9 L479.9 137.1 L481.1 137.4 L484.1 137.1 L485.9 137.1 L489.0 137.1 L490.6 137.0 L491.7 137.9 L492.6 138.9 L496.5 136.6 L498.6 137.3 L500.7 138.7 L501.9 139.4 L505.6 138.3 L506.2 137.3 L507.5 137.5 L511.2 137.0 L511.8 137.1 L513.4 135.4 L516.1 135.9 L516.8 136.2 L519.3 138.4 L520.2 138.6 L522.7 139.4 L525.0 139.5 L526.7 140.5 L529.9 139.8 L531.2 140.0 L532.6 140.4 L535.2 139.2 L535.8 139.1 L535.4 137.3 L536.7 135.8 L538.1 135.6 L540.8 138.4 L542.5 138.7 L544.9 137.6 L547.3 137.1 L548.4 138.6 L551.2 138.9 L553.0 137.9 L554.9 138.8 L556.4 138.0 L558.2 136.3 L560.7 136.4 L562.0 134.1 L564.6 134.4 L566.3 134.6 L567.6 131.8 L569.4 133.1 L570.7 133.5 L571.4 132.1 L573.9 134.9 L575.4 136.6 L576.7 135.9 L578.0 136.0 L579.7 137.3 L582.5 137.5 L584.9 138.2 L587.4 137.5 L589.4 137.3 L588.1 140.7 L588.9 141.6 L588.8 144.3 L586.8 146.8 L588.1 149.0 L585.4 149.9 L584.3 152.1 L587.5 149.9 L588.5 148.5 L589.4 146.6 L589.7 144.4 L589.8 144.1 L591.4 141.7 L590.8 141.0 L591.9 139.2 L594.0 137.0 L593.8 134.2 L595.9 132.8 L598.0 134.7 L601.0 134.7 L601.3 134.9 L602.6 134.5 L605.2 133.6 L607.0 132.0 L608.9 131.5 L609.7 131.8 L610.1 130.9 L610.9 128.5 L611.6 128.1 L611.7 125.5 L614.6 125.1 L615.3 125.5 L618.6 121.2 L618.3 120.8 L621.2 120.9 L622.3 121.4 L624.2 124.1 L625.1 123.9 L627.5 124.9 L628.6 127.3 L630.2 129.2 L630.5 130.6 L632.2 131.8 L633.3 134.0 L635.8 135.7 L636.1 135.0 L637.3 137.0 L638.5 137.8 L640.0 138.5 L640.5 141.2 L640.9 141.2 L644.8 139.5 L646.2 140.8 L648.2 140.1 L650.5 138.9 L652.6 139.0 L654.4 139.1 L655.8 140.7 L658.1 140.0 L658.9 139.7 L661.7 140.7 L664.5 140.9 L666.6 141.2 L668.1 139.9 L670.6 139.9 L671.5 139.3 L674.0 139.7 L676.8 138.5 L678.2 140.6 L678.7 142.3 L681.1 142.4 L683.7 143.9 L685.4 143.4 L688.0 143.8 L690.1 143.7 L692.2 143.2 L695.7 142.3 L695.7 145.5 L696.6 146.5 L698.4 148.7 L698.0 150.5 L700.1 151.7 L702.1 152.5 L704.7 153.7 L705.1 152.2 L708.9 153.6 L709.7 153.2 L712.3 153.1 L712.3 152.3 L716.2 152.6 L718.5 151.3 L720.1 153.9 L723.5 153.7 L723.2 155.0 L726.2 155.1 L728.6 155.2 L730.1 155.9 L732.3 155.8 L733.3 157.3 L736.8 156.4 L738.8 157.7 L739.9 157.4 L742.7 158.1 L744.2 156.9 L747.3 159.2 L748.3 159.4 L751.0 159.6 L752.9 160.0 L754.9 160.5 L756.4 161.9 L758.6 162.3 L760.5 162.9 L763.9 163.4 L764.5 163.9 L766.8 163.2 L768.1 165.1 L769.9 165.4 L772.7 166.3 L774.5 166.4 L775.9 166.5 L777.9 166.7 L779.9 166.6 L781.7 167.5 L783.2 167.8 L786.0 167.9 L789.4 166.3 L789.9 167.6 L792.8 169.5 L793.1 167.1 L796.2 168.0 L797.7 168.6 L800.2 170.0 L801.7 169.8 L804.4 167.6 L806.3 167.4 L806.5 167.6 L810.1 167.8 L811.1 168.1 L813.6 168.7 L813.9 170.5 L814.4 167.2 L817.0 168.1 L819.0 167.7 L819.7 166.4 L821.9 167.5 L821.7 169.2 L826.3 170.3 L826.4 168.0 L829.1 167.4 L832.0 167.4 L832.9 167.5 L835.1 166.8 L837.8 166.0 L840.1 165.5 L840.4 163.7 L842.4 164.1 L845.0 164.0 L846.9 163.4 L847.8 162.1 L848.5 161.7 L852.0 161.5 L853.3 160.3 L856.5 160.0 L858.6 159.9 L860.6 159.7 L862.3 157.8 L863.3 158.6 L866.4 161.5 L866.7 161.6 L869.2 161.2 L870.5 159.5 L870.0 158.7 L871.4 156.7 L871.6 155.4 L873.1 154.1 L875.6 153.4 L876.7 154.8 L879.2 153.1 L879.6 152.7 L882.3 152.3 L884.2 151.7 L885.4 151.1 L886.8 151.4 L887.7 150.4 L890.9 149.8 L892.3 151.0 L895.0 151.1 L895.0 151.4 L896.1 154.2 L893.5 154.2 L891.6 155.4 L889.6 157.2 L887.5 158.1 L885.5 160.6 L886.6 160.4 L888.3 163.0 L888.0 165.2 L889.3 167.0 L891.3 168.6 L891.6 166.0 L890.9 164.1 L892.5 163.8 L894.1 161.5 L895.0 159.8 L896.1 158.1 L897.6 157.9 L897.9 157.9 L899.1 159.3 L899.2 157.7 L900.8 154.5 L901.9 154.4 L904.0 153.3 L906.8 153.6 L910.1 152.6 L910.9 150.9 L914.2 150.6 L914.9 148.5 L917.3 147.7 L919.0 146.4 L919.4 148.1 L920.8 151.6 L920.2 150.0 L922.0 145.9 L925.4 147.3 L927.5 147.5 L927.7 149.8 L928.7 151.2 L930.1 151.9 L932.0 153.6 L933.8 155.4 L936.0 157.6 L934.2 159.7 L932.2 161.5 L931.4 161.7 L929.0 163.2 L930.8 163.4 L933.8 163.2 L935.4 163.8 L936.8 165.9 L936.3 169.4 L937.7 171.3 L939.1 171.6 L941.0 172.9 L940.2 170.7 L939.4 169.2 L938.7 165.2 L938.5 165.0 L937.1 163.0 L938.9 161.3 L936.9 160.2 L936.6 158.5 L939.1 156.1 L941.5 157.0 L942.0 159.8 L941.5 161.2 L940.6 162.6 L942.5 163.5 L944.7 164.9 L947.7 164.5 L950.1 164.6 L951.8 165.6 L954.0 165.0 L954.4 166.4 L955.5 168.3 L955.1 169.0 L956.3 166.5 L956.4 166.1 L959.9 167.2 L961.3 165.7 L963.7 167.4 L965.1 166.2 L967.0 167.8 L968.4 168.5 L969.7 170.8 L970.6 170.9 L972.7 173.1 L974.2 174.5 L975.6 175.0 L978.1 175.8 L981.5 175.7 L984.2 174.3 L985.6 175.0 L987.9 175.3 L988.3 175.9 L990.1 178.2 L991.6 178.5 L992.6 179.2 L993.6 180.4 L995.8 180.2 L997.5 181.4 L1000.4 183.4 L997.8 182.1 L997.9 179.8 L995.9 177.8 L995.9 176.9 L995.7 174.1 L994.9 172.3 L994.0 171.2 L995.1 169.8 L997.3 169.7 L999.8 168.2 L1001.1 165.3 L1002.3 164.8 L1004.3 166.9 L1004.5 164.4 L1004.7 161.7 L1006.1 161.9 L1008.0 160.0 L1008.9 160.1 L1013.4 160.4 L1015.4 161.0 L1018.3 160.3 L1020.4 161.2 L1021.0 160.8 L1023.6 161.3 L1026.2 159.3 L1026.6 159.2 L1029.8 159.4 L1031.1 158.4 L1034.0 161.2 L1033.2 161.8 L1034.1 162.9 L1036.6 164.2 L1036.9 166.1 L1037.6 168.1 L1038.5 170.7 L1039.5 171.1 L1039.3 174.1 L1040.5 175.5 L1043.0 177.5 L1042.3 174.3 L1040.5 173.6 L1041.0 172.7 L1040.0 170.0 L1040.7 166.0 L1042.1 165.9 L1044.8 164.9 L1047.0 165.7 L1048.5 167.2 L1049.6 168.4 L1051.3 168.8 L1054.0 169.2 L1054.9 170.5 L1056.4 171.6 L1057.8 171.9 L1059.8 171.2 L1063.1 171.3 L1064.4 172.3 L1066.2 172.9 L1067.6 176.1 L1068.3 176.6 L1071.7 177.9 L1071.4 178.4 L1073.5 180.1 L1075.1 182.0 L1076.4 182.0 L1079.4 181.8 L1080.4 184.1 L1081.0 183.2 L1083.2 183.4 L1086.0 184.6 L1088.4 186.7 L1089.1 185.8 L1091.7 186.7 L1093.7 185.7 L1095.9 185.8 L1097.4 185.0 L1098.8 184.1 L1100.3 183.0 L1101.1 183.5 L1105.0 184.7 L1105.2 186.3 L1107.6 186.8 L1110.5 186.1 L1113.8 187.0 L1114.5 185.1 L1117.2 184.8 L1117.7 182.6 L1119.0 185.3 L1121.2 183.0 L1123.5 182.4 L1124.8 181.1 L1126.2 182.4 L1128.2 182.4 L1130.1 181.9 L1132.4 181.5 L1132.8 180.0 L1135.2 178.0 L1137.4 177.7 L1138.8 178.3 L1138.9 179.5 L1142.1 180.2 L1143.2 178.7 L1144.7 178.0 L1146.2 175.3 L1149.4 174.4 L1150.4 172.2 L1152.6 171.4 L1154.4 170.0 L1157.1 168.7 L1157.9 167.7 L1159.1 169.8 L1157.6 171.6 L1158.1 173.6 L1159.5 174.4 L1161.4 172.1 L1163.4 171.3 L1165.1 171.0 L1166.8 169.1 L1168.0 168.9 L1170.5 167.8 L1171.4 168.2 L1173.3 169.2 L1175.1 169.1 L1175.8 166.0 L1178.8 166.0 L1180.1 164.5 L1181.5 162.2 L1182.9 161.4 L1184.2 160.3 L1183.2 157.8 L1186.4 157.2 L1186.5 155.9 L1187.2 153.8 L1188.4 152.6 L1189.8 150.9 L1192.1 150.4 L1192.5 147.5" fill="none" stroke="#4d4d4d" stroke-width="1.0" stroke-linejoin="round"/>
<path d="M253.5 619.4 L253.0 617.4 L251.6 615.3 L250.3 613.3 L249.5 610.9 L249.1 610.0 L250.3 609.2 L250.2 606.5 L250.3 604.5 L248.5 603.4 L249.4 601.1 L249.5 601.2 L250.5 597.6 L248.8 596.2 L248.9 594.6 L248.4 591.9 L250.1 589.6 L249.4 588.5 L249.4 586.4 L248.5 586.6 L246.2 582.8 L246.9 581.3 L244.8 581.1 L245.5 578.9 L245.2 576.9 L243.4 573.2 L245.6 572.2 L246.7 571.9 L243.7 569.9 L244.3 569.4 L241.0 567.5 L240.7 566.3 L240.2 564.2 L238.5 563.2 L236.9 561.4 L237.3 558.9 L236.2 557.8 L235.0 554.2 L235.9 555.3 L235.0 552.6 L234.9 550.0 L235.0 549.5 L234.6 547.7 L233.6 545.4 L233.9 543.2 L233.9 541.7 L233.8 540.2 L231.9 538.8 L231.1 536.0 L231.8 534.1 L231.2 532.3 L229.3 531.0 L229.1 527.9 L228.4 526.7 L228.3 524.0 L227.9 522.1 L228.2 519.8 L228.9 518.3 L229.2 518.3 L228.5 515.1 L228.6 512.8 L229.4 511.7 L229.6 510.4 L227.9 507.9 L226.9 506.1 L229.2 504.9 L230.6 505.9 L233.0 505.6 L231.1 504.5 L229.7 502.4 L228.3 502.4 L227.0 501.1 L228.2 499.6 L225.9 496.2 L225.3 494.5 L225.1 494.2 L224.5 490.7 L224.7 490.0 L224.9 487.6 L225.4 485.6 L223.4 485.3 L221.2 482.4 L221.6 482.4 L223.0 478.8 L221.0 476.4 L222.1 475.4 L221.8 473.9 L222.5 475.0 L226.2 472.8 L227.7 473.9 L230.4 472.0 L232.7 471.4 L233.7 470.4 L234.5 471.2 L236.2 470.0 L238.5 468.7 L240.3 468.6 L238.0 469.7 L237.5 470.5 L234.8 470.8 L233.5 470.4 L231.2 472.6 L229.0 471.8 L228.9 471.4 L225.8 471.7 L224.3 471.3 L222.3 471.7 L220.1 471.8 L218.2 471.2 L218.4 466.4 L217.6 466.3 L217.3 465.3 L216.3 462.2 L214.8 460.7 L216.6 457.8 L216.9 456.9 L217.0 453.6 L216.4 452.5 L218.0 449.7 L216.8 448.0 L218.1 445.0 L217.7 443.0 L218.2 442.0 L219.6 440.9 L221.5 439.1 L222.8 437.3 L224.5 437.1 L224.8 435.9 L226.7 434.0 L225.1 434.2 L223.6 433.6 L222.1 434.4 L219.5 435.1 L219.4 436.2 L217.1 440.0 L216.3 440.4 L214.6 438.4 L217.6 437.2 L216.2 435.9 L215.2 433.9 L215.4 431.7 L215.9 429.5 L214.7 428.0 L215.7 426.1 L216.1 423.6 L214.0 420.8 L213.9 420.9 L215.0 418.2 L214.0 418.1 L213.9 415.3 L214.4 412.9 L214.9 411.4 L214.4 409.6 L214.0 408.9 L213.8 405.0 L213.3 404.2 L213.2 402.9 L212.1 402.2 L212.5 400.1 L212.8 397.3 L214.7 396.4 L216.9 396.3 L220.4 396.9 L221.1 395.6 L224.4 396.3 L223.9 394.4 L222.8 392.1 L222.7 391.0 L221.4 389.5 L223.1 388.0 L225.1 386.7 L226.4 384.5 L228.3 381.9 L229.3 380.7 L231.3 379.7 L233.0 377.4 L234.7 376.5 L235.6 375.3 L237.2 373.7 L239.0 371.8 L241.8 371.0 L243.9 369.8 L245.7 368.3 L247.0 367.1 L247.9 366.1 L249.9 365.3 L251.4 364.7 L251.2 363.6 L250.9 361.0 L250.8 359.3 L251.3 356.4 L249.6 355.3 L249.4 356.8 L247.5 357.2 L246.5 358.9 L245.9 360.5 L244.6 362.6 L243.3 363.9 L240.7 366.8 L239.5 364.7 L236.8 366.2 L236.6 367.6 L233.3 369.5 L230.8 370.0 L232.2 370.0 L228.7 371.1 L223.8 371.5 L223.1 370.5 L221.4 371.7 L218.5 372.7 L218.2 369.0 L218.7 368.3 L218.5 366.4 L219.6 366.2 L220.0 363.4 L221.7 365.0 L221.8 365.6 L222.5 367.9 L223.5 366.3 L223.8 363.1 L223.9 362.4 L222.9 359.0 L222.7 356.9 L225.0 356.2 L224.7 356.7 L227.1 357.2 L229.5 356.0 L228.8 354.1 L230.8 351.1 L233.3 350.0 L233.2 348.8 L234.8 348.2 L236.8 346.1 L238.6 346.3 L240.2 346.1 L241.4 344.0 L242.5 341.9 L244.0 342.1 L245.6 340.0 L243.2 340.8 L241.3 338.9 L238.2 341.5 L238.0 342.4 L236.2 342.5 L233.3 344.3 L231.6 345.0 L231.7 345.1 L229.1 347.4 L227.2 346.5 L223.9 347.5 L221.9 348.4 L220.6 346.4 L219.5 345.0 L218.0 342.9 L217.5 340.9 L216.8 339.5 L214.9 338.7 L213.6 337.1 L211.9 335.3 L211.7 335.5 L207.9 335.4 L208.1 332.1 L208.8 331.7 L211.5 330.4 L212.9 330.2 L214.8 330.0 L217.6 328.9 L219.1 332.3 L217.7 333.3 L219.8 336.0 L219.7 335.6 L223.0 336.0 L223.3 334.4 L223.2 330.8 L224.7 330.4 L224.3 326.9 L224.2 327.1 L223.5 323.1 L223.5 321.0 L223.3 319.6 L222.4 318.2 L223.2 315.8 L224.2 314.3 L225.9 313.4 L226.0 312.0 L228.2 310.4 L229.5 309.3 L230.4 308.3 L231.1 306.6 L231.5 304.6 L232.2 303.8 L233.5 302.0 L233.1 300.0 L235.2 299.0 L234.9 296.5 L234.6 294.8 L233.1 296.6 L232.3 298.1 L231.9 301.0 L230.1 302.3 L228.6 303.5 L226.1 303.9 L224.4 303.9 L224.5 301.9 L223.4 300.0 L223.6 297.0 L220.3 297.2 L219.4 298.7 L220.3 300.1 L219.7 303.8 L220.5 305.6 L218.7 306.8 L216.8 308.1 L216.2 307.1 L215.4 304.8 L212.8 306.0 L212.1 306.9 L209.4 308.3 L208.3 309.6 L209.4 311.5 L207.3 313.2 L204.9 314.2 L203.9 315.5 L202.5 315.6 L201.6 319.9 L199.9 320.7 L197.9 322.3 L198.4 324.2 L195.3 324.8 L196.0 323.9 L194.4 321.5 L193.7 318.2 L191.6 317.6 L191.8 316.0 L189.6 314.8 L189.5 314.0 L189.9 311.3 L191.2 309.4 L191.8 307.7 L193.7 305.2 L193.3 303.0 L193.4 301.4 L192.4 298.3 L194.7 295.5 L194.2 295.0 L195.3 293.4 L196.5 290.6 L196.3 288.6 L198.3 287.7 L200.5 285.4 L202.3 284.8 L202.5 282.0 L204.4 281.9 L205.5 279.4 L206.0 280.7 L208.1 279.3 L210.3 277.0 L213.2 276.2 L214.2 275.0 L214.1 273.5 L215.7 271.7 L216.5 270.6 L214.7 269.6 L212.7 268.2 L212.6 270.5 L210.4 271.4 L209.7 273.5 L206.5 274.5 L205.6 275.0 L204.0 277.4 L202.0 277.6 L199.2 278.3 L198.5 277.1 L196.4 275.7 L194.4 276.8 L193.2 276.8 L191.3 278.9 L191.0 281.7 L190.7 283.7 L188.3 285.8 L186.6 283.8 L185.3 281.6 L185.2 279.3 L183.0 277.7 L181.4 276.4 L180.7 275.3 L181.8 274.5 L183.9 272.3 L184.1 271.2 L185.2 269.2 L182.9 266.5 L182.8 265.6 L182.5 264.9 L181.4 261.5 L181.4 260.2 L180.6 258.5 L180.9 255.5 L180.8 254.6 L179.8 252.6 L179.3 251.8 L176.3 249.2 L175.7 249.2 L174.9 250.6 L172.8 251.1 L171.2 251.4 L169.0 251.5 L169.1 253.8 L167.1 253.8 L166.8 255.3 L165.9 258.4 L165.4 259.7 L164.5 257.7 L162.3 255.5 L161.4 253.2 L161.2 251.4 L162.0 250.3 L163.7 247.7 L163.7 244.9 L163.7 243.9 L165.2 240.6 L165.0 240.0 L164.1 239.0 L165.7 236.4 L165.9 235.9 L164.2 233.6 L162.1 231.2 L160.6 230.0 L163.4 229.0 L165.3 228.4 L167.4 226.7 L167.0 224.4 L168.2 222.2 L168.7 221.6 L169.7 220.4 L171.8 220.4 L172.7 221.9 L172.7 221.5 L175.5 219.6 L176.4 218.6 L178.3 216.3 L179.2 215.8 L181.4 214.9 L182.8 214.3 L184.7 213.2 L182.0 213.9 L181.4 214.2 L178.6 214.5 L177.6 214.9 L176.8 215.5 L174.3 216.3 L172.5 213.8 L170.8 210.8" fill="none" stroke="#4d4d4d" stroke-width="1.0" stroke-linejoin="round"/>
<path d="M216.3 440.8 L221.7 436.7 L226.7 432.5 L230.8 427.5 L233.3 423.3 L240.0 420.0 L244.2 416.7 L246.7 410.8 L250.8 408.7 L257.5 408.7 L265.0 404.2 L273.3 402.0 L281.7 400.8 L287.5 399.2 L293.3 395.3 L299.2 393.3 L303.3 390.8 L305.3 395.0 L305.8 403.3 L308.3 406.7 L315.0 405.0 L319.2 408.0 L320.0 413.3 L316.7 418.3 L310.0 423.3 L305.0 430.0 L301.7 435.8 L302.5 440.8 L309.2 445.0 L309.2 451.7 L319.2 452.5 L325.8 450.8 L331.7 445.0 L335.0 442.0 L340.8 441.3 L342.5 434.2 L345.3 434.2 L346.3 443.3 L350.8 443.7 L353.3 440.0 L361.7 439.2 L370.0 436.7 L373.3 438.3 L380.0 440.8 L384.2 440.8 L383.3 447.5 L387.5 449.7 L395.0 447.0 L396.7 442.5 L402.5 445.0 L406.7 452.5 L413.3 446.7 L421.7 445.3 L430.0 442.5 L436.7 439.2 L439.2 433.3 L438.7 425.0 L442.5 421.3 L446.7 420.8 L453.3 425.8 L459.2 428.3 L466.7 424.7 L475.0 428.7 L483.3 428.7 L487.5 426.7 L489.2 421.3 L493.3 422.0 L498.3 429.7 L503.3 430.8 L511.7 430.3 L515.8 428.3 L517.5 425.0 L521.7 427.5 L523.3 433.3 L522.5 440.0 L527.5 441.7 L526.7 450.0 L523.3 460.0 L522.5 466.7 L525.0 476.7 L530.8 480.8 L537.5 476.3 L546.7 478.0 L556.7 482.0 L565.0 488.3 L571.7 495.3 L566.7 503.3 L561.7 510.0 L560.0 516.7 L555.0 524.2 L548.3 526.7 L544.2 533.3 L533.3 544.2 L524.2 548.7 L513.3 549.2 L508.3 555.8 L504.2 563.0 L498.3 568.7 L498.0 575.8 L494.2 582.5 L490.0 587.5 L476.7 587.5 L474.2 592.5 L473.3 596.3 L479.2 604.2 L483.3 613.3 L485.8 619.2 L490.0 623.3 L487.0 626.8 L487.6 634.4 L487.0 642.1 L489.5 651.7 L490.3 660.3 L487.0 667.9 L485.1 673.7 L487.6 678.4 L490.3 683.2 L489.9 687.0 L486.1 693.7 L484.6 699.5 L487.0 707.1 L492.8 713.3 L489.5 718.6 L483.2 723.4 L481.3 730.1 L472.7 731.1 L464.1 735.8 L460.3 747.3" fill="none" stroke="#4d4d4d" stroke-width="1.3" stroke-linejoin="round"/>
<path d="M1158.8 174.5 L1157.5 176.7 L1160.8 180.0 L1163.3 183.3 L1164.7 186.7 L1167.0 185.3 L1172.8 184.2 L1177.0 186.3 L1178.7 192.5 L1182.8 195.0 L1186.2 192.5 L1187.8 188.7 L1193.7 188.7 L1202.0 192.0 L1207.0 191.7 L1210.7 196.7 L1210.3 205.0 L1207.8 211.7 L1204.5 217.5 L1198.7 224.2 L1201.2 230.0 L1207.0 233.0 L1213.7 233.3 L1216.2 230.0 L1217.0 223.3 L1220.3 219.2 L1225.3 219.2 L1222.0 223.3 L1223.7 227.5 L1228.7 230.8 L1235.3 232.5 L1238.8 234.4 L1243.8 237.8 L1248.8 237.5 L1253.1 239.8 L1258.1 241.2 L1263.8 245.6 L1270.0 248.1 L1281.2 249.4 L1290.0 247.5 L1294.4 248.1 L1296.9 252.5 L1298.1 258.1 L1300.6 260.6 L1305.0 261.9 L1310.0 265.6 L1315.0 271.9 L1316.9 275.0 L1319.4 275.6 L1320.6 279.4 L1323.8 278.8 L1325.6 276.2 L1326.2 273.5 L1330.0 273.8 L1336.2 276.5 L1340.6 276.2 L1345.6 273.1 L1350.0 269.4 L1351.9 270.0 L1353.8 267.5 L1358.8 270.6 L1363.8 273.8 L1366.2 277.2 L1370.0 277.2 L1375.0 275.6 L1376.2 281.2 L1379.4 286.2 L1382.5 290.2 L1386.2 291.2" fill="none" stroke="#4d4d4d" stroke-width="1.3" stroke-linejoin="round"/>
<path d="M232.2 662.0 L227.5 686.7 L218.3 723.3 L212.5 736.7 L211.7 748.0" fill="none" stroke="#4d4d4d" stroke-width="1.3" stroke-linejoin="round"/>
<path d="M242.3 629.3 L245.9 625.7 L246.4 627.9 L244.6 631.5 L242.3 630.2 L241.0 634.2 L241.9 638.7 L245.0 642.3 L249.5 643.2 L254.9 641.4 L254.9 642.5 L249.5 644.6 L245.0 645.9 L243.7 648.6 L246.8 651.8 L245.0 654.9 L240.5 656.7 L239.6 659.9 L236.0 662.1 L233.3 665.3" fill="none" stroke="#4d4d4d" stroke-width="1.3" stroke-linejoin="round"/>
<path d="M679.2 142.0 L675.8 147.0 L677.0 148.7 L682.5 145.7 L683.3 143.3" fill="none" stroke="#4d4d4d" stroke-width="1.3" stroke-linejoin="round"/>
<path d="M211.7 748.0 L212.5 736.7 L218.3 723.3 L227.5 686.7 L232.5 661.7 L240.0 621.0 L243.7 576.7 L250.0 570.0 L240.0 520.0 L232.0 470.0 L228.0 440.0 L222.0 400.0 L240.0 378.0 L249.0 364.0 L240.0 358.0 L232.0 356.0 L229.0 344.0 L228.0 330.0 L234.0 309.0 L218.0 305.0 L205.0 300.0 L212.0 280.0 L208.0 268.0 L190.0 262.0 L186.0 252.0 L170.0 240.0 L175.0 225.0 L178.0 212.0 L181.7 202.5 L201.7 191.7 L212.0 182.0 L221.7 177.5 L238.3 182.0 L265.0 176.7 L290.0 165.8 L291.0 157.0 L289.5 150.0 L291.0 138.0 L306.7 130.0 L328.0 122.0 L348.0 112.0 L356.7 118.5 L368.0 109.0 L383.3 107.5 L394.2 106.5 L400.0 110.0 L415.0 122.0 L426.7 131.2 L443.3 136.7 L460.0 138.3 L475.0 135.3 L515.0 133.7 L536.7 136.7 L566.7 131.2 L580.0 132.8 L588.3 133.7 L618.3 120.7 L640.0 134.5 L676.7 138.7 L693.3 141.2 L793.3 166.2 L813.3 167.0 L821.7 165.3 L850.0 158.7 L886.7 149.3 L893.3 150.0 L898.3 153.3 L921.7 145.3 L943.3 157.5 L993.3 173.0 L1005.0 160.0 L1015.0 158.3 L1033.3 159.2 L1036.7 164.2 L1045.0 164.7 L1063.3 170.8 L1086.7 181.7 L1103.3 182.5 L1130.0 178.3 L1158.3 166.7 L1180.0 160.8 L1192.5 146.2 L1199.4 136.2 L1215.2 64.0 L1390.0 64.0 L1390.0 750.0 L211.7 750.0Z" fill="#cccccc" fill-opacity="0.6" mask="url(#nr)"/>
<path d="M243.7 576.7 L245.0 600.0 L240.0 623.3 L232.2 662.0 L232.9 662.0 L239.6 632.4 L242.3 629.3 L240.8 623.3" fill="none" stroke="#222" stroke-width="1" stroke-linejoin="round"/>
<path d="M171.2 212.0 L172.1 209.7 L173.1 208.3 L174.6 206.3 L176.8 205.6 L178.5 203.9 L180.0 203.7 L181.3 203.5 L183.9 205.0 L185.9 204.6 L188.4 205.3 L190.2 205.7 L191.8 205.4 L193.6 204.2 L194.7 203.4 L196.7 202.0 L198.4 200.3 L200.8 199.7 L203.5 198.9 L206.6 199.5 L209.2 198.8 L210.2 198.2 L209.1 195.4 L206.9 194.9 L205.7 192.8 L204.1 192.0 L203.5 189.9 L201.3 189.2 L203.2 188.0 L204.2 186.4 L206.4 186.6 L207.9 185.0 L209.8 185.2 L210.5 182.9 L212.3 180.8 L214.5 180.4 L217.0 180.1 L220.3 180.0 L220.6 178.7 L221.0 177.0 L223.4 178.0 L225.1 179.9 L225.1 181.3 L226.8 182.6 L228.3 184.5 L230.0 184.7 L231.8 184.5 L233.6 185.6 L235.2 185.7 L236.3 186.4 L238.8 187.2 L239.7 186.2 L241.2 185.7 L243.2 185.2 L244.4 184.2 L246.3 183.4 L248.5 183.0 L250.7 182.4 L252.8 180.5 L255.1 181.2 L257.1 183.3 L259.1 183.2 L261.3 182.1 L263.3 180.6 L265.5 180.0 L266.6 178.4 L267.7 175.6 L269.7 174.6 L271.6 173.1 L273.2 171.6 L276.2 171.1 L278.2 170.9 L280.3 173.5 L280.7 175.0 L281.1 176.5 L282.6 178.9 L283.6 181.2 L284.1 179.3 L284.0 176.4 L285.6 176.1 L286.8 173.0 L287.2 171.4 L287.2 168.5 L289.8 167.0 L292.4 167.2 L294.7 167.4 L295.5 169.9 L297.3 171.4 L298.9 172.1 L300.3 174.2 L301.7 175.8 L303.2 176.2 L303.7 178.5 L305.5 179.5 L304.9 181.6 L304.9 184.4 L305.4 186.9 L305.2 188.4 L306.0 186.6 L305.4 184.6 L305.3 182.8 L305.9 180.0 L305.5 177.9 L305.4 175.0 L304.8 172.7 L304.8 169.6 L306.2 167.8 L307.0 165.6 L307.3 165.4 L310.4 165.1 L308.7 164.1 L306.8 163.2 L304.6 162.3 L302.6 162.3 L299.8 162.4 L297.7 161.4 L296.3 160.6 L293.5 160.2 L291.7 158.0 L294.5 157.3 L295.9 155.4 L298.0 155.9 L300.9 154.8 L302.5 154.6 L305.0 154.6 L306.9 154.0 L308.7 152.7 L309.9 152.1 L310.9 149.9 L311.6 148.2 L310.7 150.6 L308.5 151.7 L306.7 152.5 L304.3 153.4 L302.1 153.2 L300.4 152.0 L297.5 153.7 L296.8 154.1 L294.6 155.1 L292.8 155.2 L290.9 155.8 L289.4 156.6 L287.6 154.8 L288.4 153.1 L289.7 150.5 L290.2 148.7 L290.9 147.0 L290.3 144.1 L291.0 142.3 L292.5 142.0 L291.6 140.3 L291.0 138.4 L293.6 138.0 L296.5 138.4 L299.1 137.1 L300.8 136.0 L302.0 135.5 L304.0 133.5 L304.9 133.2 L306.4 131.5 L307.9 130.1 L309.2 128.4 L311.1 127.4 L313.7 126.8 L314.6 126.2 L315.5 124.4 L318.1 123.6 L319.4 121.8 L321.0 120.8 L322.3 121.3 L323.4 124.0 L325.6 121.9 L324.6 119.4 L323.4 117.4 L323.8 114.9 L323.9 113.0 L326.1 110.8 L327.7 110.5 L329.3 110.6 L331.2 110.9 L333.3 110.5 L335.0 109.9 L337.4 108.6 L337.8 107.5 L340.2 106.4 L341.4 105.5 L343.3 104.0 L344.8 102.3 L346.9 101.6 L349.1 100.9 L352.6 100.5 L353.0 102.3 L352.7 105.2 L352.6 107.0 L351.6 108.8 L351.5 110.6 L352.2 111.9 L353.4 114.5 L351.8 116.3 L350.6 118.5 L349.5 118.0 L346.6 119.0 L345.9 117.5 L346.6 116.6 L349.4 116.2 L350.7 114.3 L351.5 112.9 L353.9 112.8 L355.4 113.2 L357.0 114.6 L358.0 113.2 L358.4 111.8 L360.1 110.8 L361.7 108.8 L363.2 107.1 L364.7 107.1 L367.0 106.4 L369.0 105.2 L370.2 103.1 L371.6 103.1 L373.5 100.8 L373.4 98.2 L375.6 96.7 L377.8 98.9 L377.9 100.7 L376.8 102.6 L375.6 104.8 L374.6 106.6 L374.1 108.6 L373.5 111.0 L374.8 109.3 L375.3 107.4 L377.1 105.5 L378.3 104.0 L381.4 103.4 L382.6 105.1 L383.3 107.3 L383.7 109.6 L384.2 111.5 L385.2 112.5 L386.1 115.3 L385.2 117.2 L386.2 118.3 L386.2 120.8 L387.5 119.3 L387.8 117.3 L387.3 115.0 L389.2 113.0 L388.9 110.9 L390.3 109.9 L392.3 109.5 L394.2 107.0 L396.4 106.8 L398.2 108.1 L400.1 108.3 L401.5 108.7 L404.0 108.8 L405.2 111.2 L406.0 111.9 L408.5 113.4 L410.5 114.2 L411.9 114.4 L413.3 114.6 L414.9 116.4 L416.3 116.6 L418.3 117.8 L419.1 120.1 L419.9 122.2 L421.3 123.5 L423.1 124.7 L422.6 126.7 L423.8 127.7 L424.7 129.4 L425.6 130.9 L428.2 132.1 L429.4 133.3 L431.5 134.1 L433.2 135.8 L430.7 136.5 L430.9 139.0 L431.5 140.9 L432.2 139.1 L432.9 137.0 L435.5 137.6 L438.3 137.8 L439.8 138.2 L443.2 138.4 L445.3 138.0 L447.9 138.7 L450.2 138.2 L453.2 138.4 L454.8 137.8 L456.3 138.2 L459.2 139.1 L460.7 138.5 L460.5 141.7 L460.3 143.8 L460.2 145.7 L460.0 146.9 L459.8 150.1 L459.2 150.2 L459.7 152.9 L459.7 150.5 L460.4 148.8 L461.7 146.3 L462.4 144.4 L463.5 142.8 L464.2 140.8 L464.0 139.4 L466.0 139.0 L468.6 139.0 L469.5 138.4 L471.7 137.7 L473.3 136.0 L476.2 136.4 L478.2 136.2 L480.1 136.7 L480.9 136.4 L483.3 137.4 L485.6 136.4 L488.7 136.9 L489.6 138.1 L492.1 138.3 L493.5 138.5 L495.4 137.8 L498.4 137.5 L500.6 138.0 L502.3 139.4 L504.5 138.3 L506.2 137.5 L508.5 137.3 L510.2 135.9 L511.6 136.4 L512.9 135.5 L515.4 136.0 L517.5 136.8 L519.2 138.3 L521.5 139.2 L523.4 139.3 L525.2 139.7 L527.4 139.0 L529.0 140.1 L530.9 140.3 L532.5 140.1 L534.3 139.5 L535.6 138.7 L536.1 136.6 L536.9 135.5 L538.2 136.2 L540.7 138.2 L543.8 138.4 L544.8 137.7 L546.5 137.9 L548.7 138.6 L550.7 139.2 L553.0 139.2 L554.2 138.0 L556.6 136.6 L558.5 135.6 L560.5 136.8 L562.8 135.5 L564.7 133.2 L566.0 132.8 L567.6 131.4 L567.9 133.7 L570.3 134.1 L571.5 134.6 L572.8 135.5 L575.0 135.6 L576.5 136.1 L578.4 136.4 L580.2 137.1 L582.5 137.1 L585.3 138.2 L587.4 136.8 L589.1 137.6 L588.9 140.2 L588.6 142.2 L588.3 143.1 L587.4 146.1 L587.8 148.4 L585.7 150.0 L585.2 151.3 L587.0 149.9 L588.4 148.1 L589.2 147.2 L589.6 145.3 L589.7 144.1 L591.2 142.2 L590.7 140.2 L592.0 139.0 L593.1 137.4 L593.0 134.5 L596.2 133.3 L597.7 134.2 L600.6 135.3 L600.7 134.7 L604.3 133.6 L605.2 133.1 L607.3 132.8 L608.7 132.9 L609.3 131.6 L610.6 129.7 L610.8 128.4 L611.8 126.8 L611.4 125.5 L614.3 124.9 L615.9 124.6 L616.9 122.1 L618.5 120.6 L620.5 120.9 L622.7 122.2 L624.0 123.6 L626.1 124.9 L627.3 125.4 L628.9 127.7 L630.2 129.2 L631.5 131.6 L632.6 132.3 L633.6 133.3 L634.8 135.4 L636.0 134.8 L638.5 136.0 L638.8 137.4 L640.4 139.2 L640.3 140.7 L642.5 141.0 L644.2 141.5 L645.9 140.4 L647.5 139.9 L650.3 138.7 L651.8 139.3 L654.2 139.3 L655.9 140.2 L657.8 140.1 L660.0 140.5 L662.0 140.1 L664.7 140.4 L666.4 140.5 L667.8 140.2 L670.4 138.9 L671.4 139.7 L674.0 139.6 L676.3 139.0 L676.8 140.1 L679.4 142.3 L681.9 142.6 L683.1 143.2 L685.0 143.7 L688.6 142.6 L691.2 142.3 L692.6 142.6 L693.4 144.2 L695.5 145.6 L696.3 147.0 L697.4 148.7 L698.9 150.3 L701.0 151.2 L702.4 153.2 L704.0 153.6 L706.4 153.4 L707.4 153.1 L709.9 152.6 L712.0 152.2 L713.8 152.0 L716.2 152.3 L718.1 153.1 L720.2 153.6 L722.0 154.4 L722.7 155.1 L725.0 155.8 L727.9 155.6 L729.4 155.6 L731.7 156.2 L733.9 157.3 L736.8 156.6 L738.2 156.9 L740.5 157.3 L742.5 158.0 L743.7 158.5 L746.9 158.4 L748.3 159.4 L750.4 160.3 L753.3 160.6 L755.5 160.8 L757.3 161.3 L758.8 162.4 L761.4 163.2 L762.9 163.6 L765.3 163.9 L765.8 164.5 L768.2 165.0 L770.3 165.0 L772.2 165.8 L774.5 166.1 L777.1 166.1 L778.0 167.5 L779.6 167.5 L782.1 167.3 L783.8 168.4 L785.7 168.1 L788.1 168.7 L789.5 168.0 L791.5 167.5 L794.3 167.2 L795.7 168.9 L797.5 169.7 L799.3 170.1 L801.5 170.3 L804.4 168.3 L805.9 167.2 L808.4 167.7 L809.9 167.2 L812.0 167.3 L813.2 168.9 L813.3 169.8 L815.2 168.8 L816.9 167.7 L818.2 166.6 L819.9 166.5 L821.4 168.7 L822.7 169.5 L824.7 169.0 L826.5 168.7 L829.1 168.0 L830.6 166.3 L833.1 167.3 L835.5 166.6 L837.7 166.4 L840.0 166.3 L841.6 165.1 L843.9 164.9 L845.3 164.2 L846.7 163.4 L848.6 162.6 L849.2 162.4 L851.5 160.8 L853.2 160.2 L855.5 160.0 L858.6 159.6 L860.6 158.3 L862.7 157.7 L864.2 158.8 L865.0 159.7 L866.3 161.3 L867.9 160.6 L870.3 159.8 L870.3 158.3 L870.7 156.7 L872.3 156.1 L873.3 154.6 L875.0 154.0 L876.2 153.3 L878.7 153.1 L879.7 152.0 L881.2 151.9 L883.2 151.0 L885.4 151.3 L886.6 150.7 L888.9 150.3 L891.0 149.9 L892.9 149.7 L893.9 151.3 L895.2 153.2 L895.1 154.4 L893.9 155.4 L891.6 156.2 L889.8 156.4 L888.1 158.0 L886.1 159.8 L886.7 162.0 L888.5 163.1 L888.9 164.9 L888.6 167.8 L891.0 168.2 L891.5 166.2 L891.2 164.3 L892.6 163.3 L894.3 162.6 L894.6 160.4 L895.7 159.0 L897.8 156.8 L898.8 157.9 L899.7 160.8 L900.0 157.8 L901.1 156.0 L902.6 153.6 L904.2 154.4 L906.5 153.3 L909.5 151.9 L911.1 150.9 L912.7 149.8 L915.1 148.1 L916.9 147.1 L919.1 147.0 L919.3 148.4 L920.5 151.7 L920.6 149.0 L921.5 146.0 L925.2 147.1 L925.5 148.9 L927.7 150.0 L928.9 151.3 L930.0 152.4 L932.6 153.9 L933.7 155.9 L935.9 157.1 L934.3 160.3 L932.0 160.7 L931.6 161.3 L929.3 162.7 L931.3 163.0 L933.5 163.4 L934.9 164.0 L936.4 165.6 L937.4 169.7 L938.7 169.5 L940.0 171.8 L940.6 172.7 L940.4 170.8 L939.1 169.2 L939.0 166.0 L938.3 164.8 L938.2 163.2 L938.8 160.3 L937.9 159.1 L936.4 157.3 L938.8 156.0 L942.0 157.3 L941.1 158.6 L940.7 160.6 L940.8 163.8 L943.4 164.4 L944.8 164.9 L947.2 164.3 L950.2 164.6 L952.7 165.1 L953.2 165.8 L954.7 166.0 L956.1 167.4 L955.7 169.5 L955.8 167.7 L956.5 165.9 L958.8 166.3 L961.8 166.8 L963.2 166.9 L964.3 166.8 L966.7 167.2 L968.0 168.5 L969.6 170.5 L970.7 171.8 L972.3 172.8 L974.4 174.1 L976.0 175.4 L978.1 175.4 L980.4 176.1 L983.1 173.5 L984.8 174.7 L986.5 175.3 L988.4 176.2 L989.8 176.8 L991.0 177.7 L993.1 179.5 L994.3 180.1 L995.9 181.2 L997.4 180.9 L999.7 183.4 L998.9 182.2 L997.3 180.3 L997.6 178.7 L996.5 177.1 L995.7 175.4 L994.3 173.0 L993.7 171.5 L996.3 170.7 L997.3 169.6 L999.7 167.6 L1001.5 166.9 L1002.4 164.9 L1004.7 167.0 L1005.7 165.5 L1005.2 162.4 L1005.4 161.7 L1008.4 161.2 L1010.0 160.0 L1012.7 160.4 L1015.0 160.1 L1016.9 160.6 L1020.0 161.2 L1021.6 160.2 L1023.7 161.3 L1026.5 159.9 L1027.3 158.8 L1030.2 158.8 L1031.9 158.2 L1032.4 159.9 L1033.4 162.1 L1033.6 162.4 L1036.0 164.1 L1037.5 165.8 L1037.5 167.9 L1038.9 169.4 L1038.9 171.9 L1039.0 173.3 L1040.3 175.8 L1042.9 176.9 L1042.8 175.6 L1040.6 173.6 L1040.9 171.8 L1040.9 169.0 L1040.6 166.7 L1043.5 165.8 L1044.4 165.5 L1046.9 165.5 L1048.2 167.3 L1050.4 167.8 L1052.2 168.4 L1053.6 169.0 L1054.5 170.2 L1056.6 171.1 L1057.9 171.4 L1060.0 172.6 L1062.1 171.2 L1062.9 172.5 L1065.4 173.0 L1067.2 175.5 L1068.9 176.7 L1069.8 178.1 L1071.1 178.7 L1073.1 179.9 L1074.5 180.2 L1076.2 181.8 L1078.3 182.5 L1080.1 183.5 L1082.1 184.9 L1084.0 184.8 L1085.7 185.6 L1088.7 184.4 L1090.6 185.5 L1092.6 186.4 L1093.6 185.3 L1095.7 186.5 L1097.2 184.9 L1099.0 183.9 L1101.1 183.5 L1102.5 184.0 L1104.1 185.1 L1106.1 186.4 L1108.0 187.8 L1110.8 185.6 L1114.1 186.5 L1115.2 185.7 L1116.4 185.2 L1118.5 183.9 L1119.6 183.7 L1121.7 182.9 L1123.1 183.2 L1125.1 182.0 L1126.4 181.5 L1129.1 181.5 L1131.0 182.0 L1132.4 180.9 L1133.4 179.4 L1135.0 178.5 L1138.1 178.7 L1138.8 178.9 L1140.8 179.3 L1142.5 180.8 L1143.4 178.3 L1145.0 177.6 L1147.1 175.9 L1149.0 174.6 L1150.3 172.6 L1152.2 171.6 L1153.9 170.0 L1155.8 169.6 L1158.4 168.5 L1158.2 170.0 L1158.7 172.0 L1158.3 174.2 L1159.8 174.7 L1161.4 172.2 L1163.8 171.5 L1164.9 170.5 L1166.9 170.1 L1168.1 168.7 L1170.8 168.7 L1171.4 168.2 L1173.0 168.5 L1175.2 168.4 L1177.1 166.9 L1177.9 165.9 L1179.5 164.0 L1180.4 162.8 L1182.3 161.5 L1183.3 160.7 L1185.0 158.9 L1185.9 157.1 L1186.3 156.0 L1188.1 153.9 L1188.0 152.2 L1188.8 151.0 L1190.4 149.7 L1192.5 147.5 L1198.3 150.8 L1203.3 154.7 L1209.2 158.3 L1216.7 160.0 L1225.0 161.2 L1233.3 162.5 L1241.7 164.7 L1248.3 166.7 L1253.3 168.7 L1257.0 171.3 L1266.7 175.3 L1272.0 180.8 L1282.0 187.5 L1293.7 194.2 L1305.3 201.7 L1309.5 206.7 L1311.2 216.7 L1326.7 225.3 L1317.0 230.8 L1314.0 243.3 L1303.7 242.0 L1295.3 238.7 L1287.0 235.8 L1273.7 236.3 L1265.3 234.2 L1256.2 235.8 L1252.8 243.3 L1236.2 250.0 L1242.8 258.7 L1238.7 264.2 L1234.5 268.7 L1222.8 262.5 L1217.5 269.2 L1215.0 275.8 L1215.3 281.7 L1218.3 289.2 L1221.7 297.5 L1217.5 306.7 L1219.2 313.0 L1205.8 310.8 L1199.2 317.5 L1192.5 314.7 L1189.2 302.0 L1182.5 299.2 L1175.8 296.3 L1172.5 292.5 L1165.0 290.3 L1158.3 286.7 L1164.2 280.8 L1168.3 275.3 L1164.7 268.3 L1154.2 273.3 L1153.3 279.2 L1143.3 281.3 L1130.0 285.3 L1123.3 289.7 L1115.3 295.3 L1105.8 290.3 L1095.8 290.0 L1090.8 296.7 L1093.3 305.0 L1092.5 311.3 L1089.2 316.7 L1077.5 314.7 L1064.2 316.3 L1046.7 316.3 L1030.8 311.7 L1030.8 307.0 L1025.0 302.5 L1028.3 300.3 L1040.0 300.3 L1049.2 299.2 L1055.8 297.5 L1059.2 294.2 L1058.0 287.0 L1050.0 285.8 L1041.7 283.7 L1033.3 280.0 L1025.8 278.3 L1029.2 271.7 L1031.7 263.7 L1035.0 258.7 L1031.7 254.7 L1024.2 257.0 L1020.0 260.8 L1018.3 264.2 L1017.5 270.8 L1004.2 266.7 L997.5 261.7 L990.0 252.5 L985.0 253.3 L983.3 258.0 L977.5 253.3 L970.8 252.5 L968.3 257.5 L976.7 265.0 L992.5 283.0 L985.0 284.2 L974.2 274.2 L966.7 265.3 L955.8 258.3 L947.0 252.5 L943.3 246.7 L942.5 238.3 L939.2 232.5 L928.3 232.0 L919.2 232.5 L906.7 235.8 L901.7 243.3 L897.0 250.8 L896.3 259.2 L893.3 265.0 L886.7 272.0 L880.0 278.7 L873.0 284.7 L860.8 284.7 L855.0 282.0 L848.7 277.5 L849.3 262.5 L837.5 256.3 L835.8 253.3 L836.7 259.7 L831.7 261.7 L824.2 261.7 L815.8 263.0 L810.0 265.0 L805.8 268.7 L807.5 270.8 L804.2 275.3 L800.0 275.8 L796.7 275.8 L786.7 273.7 L781.7 273.3 L772.5 278.7 L763.3 275.8 L751.7 278.3 L740.0 280.8 L726.7 279.7 L710.0 278.3 L698.3 278.3 L689.2 265.3 L675.8 268.7 L662.5 272.5 L654.2 276.7 L646.7 280.8 L639.2 288.3 L635.0 296.3 L626.7 292.5 L622.5 295.0 L617.0 303.0 L611.7 305.3 L598.0 303.7 L587.0 309.2 L584.2 327.5 L579.2 331.7 L568.3 333.3 L557.5 336.7 L564.2 341.3 L568.0 347.0 L559.2 348.3 L551.3 353.7 L562.5 361.7 L570.0 370.8 L566.3 378.3 L563.0 385.3 L554.2 388.0 L547.5 394.7 L548.0 405.0 L538.0 409.7 L528.3 410.3 L514.7 413.0 L517.5 418.3 L530.0 422.5 L546.7 428.3 L565.0 435.0 L576.7 440.0 L588.7 443.7 L587.5 449.2 L573.3 446.7 L559.2 445.0 L546.7 442.5 L545.8 448.3 L542.5 451.3 L532.0 452.5 L531.3 445.8 L533.0 435.3 L525.8 436.3 L524.2 445.0 L522.5 455.0 L513.3 456.7 L510.3 451.7 L515.8 444.2 L513.3 439.2 L500.0 439.2 L495.8 445.8 L493.0 455.8 L489.2 470.0 L484.2 485.0 L478.3 488.3 L475.8 483.3 L475.3 465.8 L469.7 460.8 L471.3 455.8 L480.8 453.3 L483.3 448.3 L484.7 440.0 L473.3 444.7 L463.3 448.0 L457.5 450.8 L455.3 448.3 L455.8 442.5 L452.5 435.0 L446.7 433.0 L446.3 440.0 L443.0 441.7 L437.5 441.7 L436.7 455.0 L437.5 466.3 L432.5 468.7 L427.5 463.0 L422.5 466.7 L420.3 477.0 L411.7 473.3 L410.0 491.7 L405.3 496.3 L400.3 507.5 L392.5 511.7 L393.7 516.7 L399.2 522.5 L401.7 529.2 L402.0 535.0 L394.2 533.0 L383.7 522.0 L379.2 533.0 L375.0 532.5 L369.7 529.2 L357.5 543.7 L358.7 550.0 L353.7 551.7 L354.7 558.0 L349.7 558.3 L347.5 568.3 L354.2 578.0 L351.7 585.3 L355.0 590.8 L356.7 596.7 L360.3 604.7 L368.3 604.2 L375.8 606.3 L376.3 612.0 L370.0 617.5 L367.5 623.3 L360.8 626.3 L349.2 623.7 L348.3 617.0 L340.0 615.3 L339.7 623.3 L337.5 629.7 L326.3 621.3 L319.2 635.3 L308.0 638.3 L305.3 644.2 L316.7 652.5 L320.0 659.2 L305.8 684.2 L295.0 695.0 L288.7 703.0 L290.0 710.8 L283.7 715.3 L277.0 710.8 L279.2 698.3 L279.2 678.0 L273.7 673.3 L272.5 653.3 L270.3 650.3 L268.0 653.3 L266.3 664.7 L258.0 663.7 L255.0 647.5 L256.7 639.2 L253.7 630.0 L251.7 623.3 L253.0 620.0 L253.8 618.4 L252.2 616.3 L251.5 615.0 L249.6 613.1 L250.1 611.3 L250.1 609.9 L250.5 607.9 L250.3 606.7 L250.3 604.3 L249.8 603.7 L249.6 600.6 L249.7 598.6 L249.2 597.1 L249.4 595.9 L249.0 593.6 L249.5 591.8 L249.7 591.1 L249.1 588.1 L248.4 586.4 L247.7 585.2 L247.9 584.4 L246.4 580.8 L246.4 580.0 L244.9 578.6 L244.3 576.2 L243.4 574.4 L245.5 572.6 L246.5 572.0 L244.0 569.9 L242.6 568.6 L241.9 567.5 L241.0 566.1 L238.7 564.2 L238.5 561.8 L237.7 560.8 L236.8 559.4 L236.9 557.8 L235.8 555.8 L236.5 553.6 L235.0 552.5 L235.5 550.9 L234.8 548.7 L235.0 547.0 L234.3 545.2 L234.3 543.3 L233.8 541.8 L232.9 539.6 L232.7 538.1 L232.4 535.8 L231.4 534.1 L230.6 532.7 L230.3 530.4 L228.7 528.0 L228.4 526.8 L228.2 524.3 L228.0 521.4 L227.8 520.4 L228.0 518.4 L228.3 517.0 L228.4 514.8 L229.4 512.7 L229.8 511.8 L228.9 509.5 L229.0 507.6 L227.5 506.0 L229.3 506.1 L231.2 505.6 L233.0 505.5 L231.2 504.8 L230.3 503.0 L228.0 502.2 L227.2 500.8 L226.7 499.4 L226.2 496.3 L225.3 494.9 L225.7 493.7 L225.0 491.3 L224.7 489.7 L223.9 487.8 L223.2 486.6 L223.0 485.0 L223.3 483.0 L223.0 481.7 L223.0 479.0 L222.5 478.1 L221.8 475.8 L222.0 474.3 L223.8 474.4 L226.2 474.1 L227.8 473.3 L229.5 472.3 L232.4 471.5 L233.3 471.1 L235.2 471.1 L237.1 470.0 L238.3 469.5 L240.0 468.3 L238.7 468.4 L236.6 469.0 L234.7 469.9 L233.8 471.3 L231.8 471.2 L228.8 470.7 L227.8 472.0 L226.0 471.8 L223.6 472.4 L222.9 472.6 L220.0 472.5 L219.2 470.7 L217.4 469.3 L217.1 466.8 L216.5 465.0 L216.8 462.2 L216.6 460.1 L215.4 458.5 L215.7 456.1 L215.9 454.3 L216.4 452.4 L217.0 451.0 L217.1 448.5 L217.7 446.5 L218.3 444.0 L218.0 441.4 L220.1 440.3 L221.6 439.0 L222.6 438.4 L224.5 436.1 L225.5 435.4 L226.6 434.4 L225.1 433.6 L223.1 433.2 L222.0 434.3 L220.3 436.1 L218.4 436.3 L217.1 438.2 L216.1 440.7 L216.0 439.1 L216.5 437.5 L215.8 435.4 L215.7 434.0 L215.1 432.6 L215.2 430.5 L214.4 428.4 L214.7 427.0 L215.2 424.7 L215.0 422.6 L214.2 421.3 L214.0 418.7 L213.9 416.7 L214.1 415.6 L213.9 413.5 L213.3 411.2 L213.5 410.1 L214.3 407.1 L213.7 407.0 L213.5 405.2 L213.9 402.9 L212.7 400.7 L213.8 398.9 L212.7 397.4 L215.4 396.7 L216.3 395.7 L219.5 396.1 L222.1 395.5 L224.3 396.1 L223.5 393.8 L223.3 392.6 L222.1 390.7 L221.0 389.9 L223.6 387.5 L224.0 385.6 L226.8 384.4 L228.4 382.5 L229.5 380.7 L230.7 378.9 L233.8 377.7 L234.4 376.6 L236.1 375.0 L238.2 374.7 L239.5 372.5 L241.4 371.6 L243.9 370.1 L245.7 369.3 L247.0 367.4 L248.5 366.3 L250.2 365.9 L252.1 365.0 L251.4 363.3 L251.6 360.3 L250.8 359.0 L250.9 356.8 L249.5 354.8 L248.7 356.4 L247.3 357.8 L246.2 359.3 L245.8 360.9 L244.9 362.4 L242.9 364.5 L241.5 364.7 L239.4 365.7 L237.8 366.1 L235.9 367.4 L234.2 368.2 L232.3 368.8 L230.4 369.9 L228.6 370.9 L226.3 371.1 L223.2 371.7 L220.4 372.0 L218.6 372.2 L218.4 370.7 L219.7 369.7 L219.1 366.8 L219.8 364.9 L219.5 363.5 L221.2 364.8 L222.2 366.2 L222.8 367.7 L223.6 365.5 L223.9 363.4 L223.6 361.0 L222.7 359.3 L222.5 357.3 L223.7 357.1 L225.3 356.8 L227.1 356.2 L229.4 355.3 L229.7 354.0 L231.3 352.1 L232.3 350.7 L233.5 349.5 L235.0 348.0 L236.7 346.8 L238.1 345.7 L240.2 344.1 L241.7 343.9 L243.2 342.6 L243.7 341.8 L245.2 339.8 L243.3 339.0 L240.8 339.8 L238.6 341.2 L237.4 341.7 L235.4 343.3 L234.7 343.8 L232.7 344.1 L230.8 345.9 L228.4 346.0 L226.6 346.5 L223.9 347.8 L222.7 348.5 L221.1 347.1 L219.1 344.3 L218.4 342.8 L217.2 341.3 L216.7 338.9 L216.2 337.7 L213.4 336.8 L211.9 336.2 L210.2 335.7 L208.2 335.3 L208.2 333.2 L210.0 331.3 L211.6 331.0 L213.4 330.5 L215.6 330.2 L216.9 329.2 L218.4 331.5 L218.2 333.3 L219.1 336.4 L221.6 336.1 L223.6 336.4 L222.3 333.8 L223.0 331.5 L225.0 330.0 L224.7 327.7 L224.6 325.3 L224.3 322.9 L223.8 321.5 L223.2 320.1 L222.8 317.5 L223.0 316.2 L224.1 314.0 L225.3 313.3 L226.9 311.5 L228.1 311.1 L229.5 309.6 L230.6 308.1 L231.5 306.4 L231.8 304.6 L233.4 303.6 L233.2 301.6 L233.3 300.2 L233.4 298.6 L234.3 295.9 L235.4 294.4 L234.1 296.7 L232.7 299.0 L232.2 300.8 L229.9 302.7 L228.3 303.7 L226.4 303.8 L225.1 304.2 L224.1 302.5 L223.4 300.0 L222.4 297.2 L220.6 296.8 L220.1 298.6 L219.3 300.7 L220.4 303.1 L219.8 305.8 L218.8 306.8 L216.3 308.4 L215.7 306.7 L214.6 304.7 L213.2 306.0 L212.1 307.0 L210.5 308.7 L208.6 310.2 L208.2 311.5 L207.4 313.7 L205.4 314.3 L204.1 315.9 L202.6 317.7 L201.5 319.8 L200.4 322.8 L199.0 323.8 L198.0 324.2 L195.3 325.2 L195.0 322.5 L194.9 320.8 L192.7 319.1 L191.7 317.1 L189.9 316.6 L188.9 314.8 L189.5 312.8 L190.5 311.2 L191.4 309.1 L191.6 307.0 L192.5 304.8 L192.4 303.5 L194.0 302.2 L194.6 299.6 L193.5 297.7 L195.0 295.1 L195.5 293.8 L195.4 291.2 L197.1 289.3 L198.3 287.5 L199.7 287.1 L201.1 284.1 L203.2 283.5 L203.9 281.4 L205.3 279.5 L206.5 279.4 L208.0 277.8 L209.9 276.5 L212.3 276.3 L214.5 275.9 L214.5 274.9 L215.4 272.7 L215.9 270.8 L213.8 270.1 L212.3 268.3 L212.0 270.8 L210.8 273.0 L208.7 274.7 L207.0 275.0 L204.9 276.3 L202.6 277.0 L201.8 277.9 L200.6 277.1 L198.5 276.0 L196.8 275.6 L194.4 277.4 L193.8 277.5 L192.6 280.6 L191.3 282.0 L190.0 283.6 L188.6 285.4 L187.8 283.7 L186.1 282.7 L185.2 280.0 L183.6 278.3 L182.2 276.0 L181.4 275.0 L182.4 273.1 L183.6 272.5 L184.6 270.4 L185.4 269.1 L184.3 267.0 L182.8 265.6 L181.5 264.1 L181.6 262.1 L180.7 259.9 L180.9 258.4 L181.2 255.5 L179.9 254.4 L178.8 252.7 L177.3 250.4 L177.1 249.9 L175.7 248.7 L174.0 249.8 L172.5 252.0 L170.8 252.0 L169.5 251.1 L168.3 253.0 L166.8 253.6 L166.2 255.9 L165.1 257.1 L165.0 259.4 L163.8 257.4 L162.6 255.6 L161.8 253.7 L160.7 251.6 L162.2 248.5 L162.9 247.5 L163.8 245.7 L164.3 243.3 L165.1 242.2 L165.1 239.9 L165.1 238.1 L165.9 236.7 L165.1 235.1 L163.6 233.6 L161.9 230.9 L161.4 229.5 L162.6 228.4 L165.0 228.7 L166.4 226.2 L166.6 224.0 L168.5 222.7 L168.5 221.7 L170.0 220.0 L171.8 220.5 L173.1 222.1 L174.2 220.9 L175.0 219.3 L175.8 217.6 L178.5 216.4 L179.6 216.6 L181.7 214.9 L183.5 214.6 L184.9 212.8 L183.2 214.1 L180.4 214.1 L179.1 214.7 L177.8 215.2 L175.2 215.3 L174.1 215.8 L172.8 213.6 L170.7 210.8Z" fill="none" stroke="#000" stroke-width="1.3" stroke-linejoin="round"/>
</g>
<rect x="103.65" y="66.85" width="1280.5" height="678.5" fill="none" stroke="#333" stroke-width="1.5"/>
<g stroke="#333" stroke-width="2.96">
<line x1="332.5" y1="746.1" x2="332.5" y2="753.7"/>
<line x1="598.5" y1="746.1" x2="598.5" y2="753.7"/>
<line x1="864.6" y1="746.1" x2="864.6" y2="753.7"/>
<line x1="1130.6" y1="746.1" x2="1130.6" y2="753.7"/>
<line x1="95.30000000000001" y1="149.5" x2="102.9" y2="149.5"/>
<line x1="95.30000000000001" y1="239.1" x2="102.9" y2="239.1"/>
<line x1="95.30000000000001" y1="328.7" x2="102.9" y2="328.7"/>
<line x1="95.30000000000001" y1="418.3" x2="102.9" y2="418.3"/>
<line x1="95.30000000000001" y1="507.9" x2="102.9" y2="507.9"/>
<line x1="95.30000000000001" y1="597.5" x2="102.9" y2="597.5"/>
<line x1="95.30000000000001" y1="687.1" x2="102.9" y2="687.1"/>
</g>
<g fill="#4d4d4d" font-size="24.4px">
<text x="335.5" y="776.8" text-anchor="middle">8°W</text>
<text x="601.5" y="776.8" text-anchor="middle">6°W</text>
<text x="867.6" y="776.8" text-anchor="middle">4°W</text>
<text x="1133.6" y="776.8" text-anchor="middle">2°W</text>
<text x="89.2" y="157.9" text-anchor="end">43.5°N</text>
<text x="89.2" y="247.5" text-anchor="end">43.0°N</text>
<text x="89.2" y="337.1" text-anchor="end">42.5°N</text>
<text x="89.2" y="426.7" text-anchor="end">42.0°N</text>
<text x="89.2" y="516.3" text-anchor="end">41.5°N</text>
<text x="89.2" y="605.9" text-anchor="end">41.0°N</text>
<text x="89.2" y="695.5" text-anchor="end">40.5°N</text>
</g>
<text x="102.9" y="44" font-size="36.3px" fill="#000">Artemisia alba</text>
</svg></body></html>
